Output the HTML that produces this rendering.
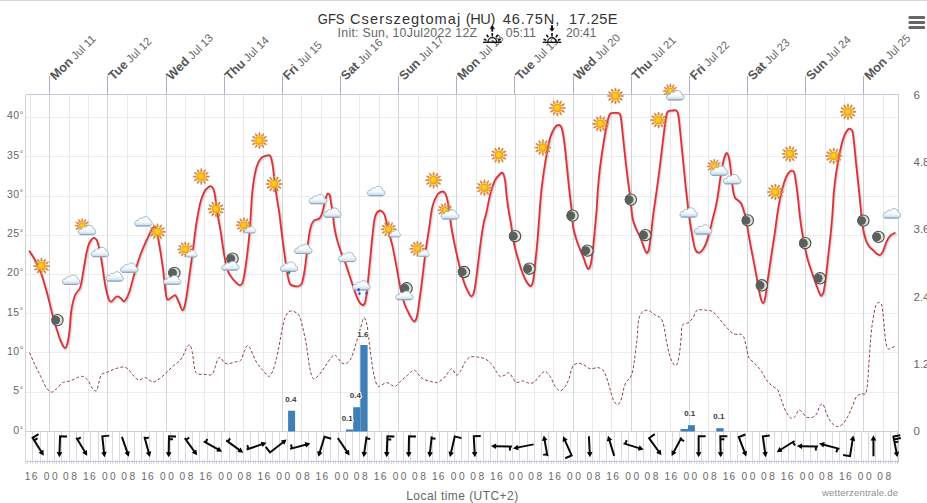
<!DOCTYPE html>
<html><head><meta charset="utf-8"><title>GFS Cserszegtomaj</title>
<style>html,body{margin:0;padding:0;background:#fff}body{width:927px;height:503px;overflow:hidden}svg{display:block}text{font-family:"Liberation Sans",sans-serif}</style>
</head><body>
<svg width="927" height="503" viewBox="0 0 927 503">
<defs>
<radialGradient id="gs" cx="0.45" cy="0.45" r="0.6"><stop offset="0" stop-color="#ffdc22"/><stop offset="0.5" stop-color="#fbc512"/><stop offset="1" stop-color="#f0931a"/></radialGradient>
<linearGradient id="gc" x1="0" y1="0" x2="0" y2="1"><stop offset="0" stop-color="#ffffff"/><stop offset="0.55" stop-color="#f6f9fc"/><stop offset="1" stop-color="#c3d6e6"/></linearGradient>
<g id="sun">
 <path d="M0.85 -5.00L0.45 -8.00L-0.45 -8.00L-0.85 -5.00zM3.24 -3.91L4.39 -6.70L3.61 -7.15L1.76 -4.76zM4.76 -1.76L7.15 -3.61L6.70 -4.39L3.91 -3.24zM5.00 0.85L8.00 0.45L8.00 -0.45L5.00 -0.85zM3.91 3.24L6.70 4.39L7.15 3.61L4.76 1.76zM1.76 4.76L3.61 7.15L4.39 6.70L3.24 3.91zM-0.85 5.00L-0.45 8.00L0.45 8.00L0.85 5.00zM-3.24 3.91L-4.39 6.70L-3.61 7.15L-1.76 4.76zM-4.76 1.76L-7.15 3.61L-6.70 4.39L-3.91 3.24zM-5.00 -0.85L-8.00 -0.45L-8.00 0.45L-5.00 0.85zM-3.91 -3.24L-6.70 -4.39L-7.15 -3.61L-4.76 -1.76zM-1.76 -4.76L-3.61 -7.15L-4.39 -6.70L-3.24 -3.91z" fill="#d68636" stroke="#d68636" stroke-width="0.5" stroke-linejoin="round"/>
 <circle r="4.0" fill="url(#gs)" stroke="#ee961c" stroke-width="0.9"/>
</g>
<g id="cloud">
 <path d="M-6.5 4.7h12.8a2.7 2.7 0 0 0 0.5 -5.35a4.45 4.45 0 0 0 -8.2 -2.0a2.3 2.3 0 0 0 -3.7 2.0a2.75 2.75 0 0 0 -1.4 5.35z" fill="url(#gc)" stroke="#9db6c9" stroke-width="0.95" stroke-linejoin="round"/>
 <path d="M-6.7 4.7h13.2" stroke="#8ea4b6" stroke-width="1" fill="none" stroke-linecap="round"/>
</g>
<g id="moon">
 <circle cx="0.5" cy="0.6" r="5.65" fill="#e0e0d3" stroke="#484b4a" stroke-width="1.1"/>
 <circle cx="-1.3" cy="0.6" r="4.4" fill="#59605d"/>
</g>
<g id="sunS">
 <path d="M0.75 -3.90L0.40 -7.20L-0.40 -7.20L-0.75 -3.90zM2.60 -3.00L3.95 -6.04L3.25 -6.44L1.30 -3.75zM3.75 -1.30L6.44 -3.25L6.04 -3.95L3.00 -2.60zM3.90 0.75L7.20 0.40L7.20 -0.40L3.90 -0.75zM3.00 2.60L6.04 3.95L6.44 3.25L3.75 1.30zM1.30 3.75L3.25 6.44L3.95 6.04L2.60 3.00zM-0.75 3.90L-0.40 7.20L0.40 7.20L0.75 3.90zM-2.60 3.00L-3.95 6.04L-3.25 6.44L-1.30 3.75zM-3.75 1.30L-6.44 3.25L-6.04 3.95L-3.00 2.60zM-3.90 -0.75L-7.20 -0.40L-7.20 0.40L-3.90 0.75zM-3.00 -2.60L-6.04 -3.95L-6.44 -3.25L-3.75 -1.30zM-1.30 -3.75L-3.25 -6.44L-3.95 -6.04L-2.60 -3.00z" fill="#d68636" stroke="#d68636" stroke-width="0.5" stroke-linejoin="round"/>
 <circle r="3.0" fill="url(#gs)" stroke="#ee961c" stroke-width="0.9"/>
</g>
<g id="sunM">
 <path d="M0.80 -4.60L0.45 -7.60L-0.45 -7.60L-0.80 -4.60zM2.99 -3.58L4.19 -6.36L3.41 -6.81L1.61 -4.38zM4.38 -1.61L6.81 -3.41L6.36 -4.19L3.58 -2.99zM4.60 0.80L7.60 0.45L7.60 -0.45L4.60 -0.80zM3.58 2.99L6.36 4.19L6.81 3.41L4.38 1.61zM1.61 4.38L3.41 6.81L4.19 6.36L2.99 3.58zM-0.80 4.60L-0.45 7.60L0.45 7.60L0.80 4.60zM-2.99 3.58L-4.19 6.36L-3.41 6.81L-1.61 4.38zM-4.38 1.61L-6.81 3.41L-6.36 4.19L-3.58 2.99zM-4.60 -0.80L-7.60 -0.45L-7.60 0.45L-4.60 0.80zM-3.58 -2.99L-6.36 -4.19L-6.81 -3.41L-4.38 -1.61zM-1.61 -4.38L-3.41 -6.81L-4.19 -6.36L-2.99 -3.58z" fill="#d68636" stroke="#d68636" stroke-width="0.5" stroke-linejoin="round"/>
 <circle r="3.6" fill="url(#gs)" stroke="#ee961c" stroke-width="0.9"/>
</g>
<g id="pc"><use href="#sunS" transform="translate(-4.7,-4.2)"/><use href="#cloud"/></g>
<g id="ms"><use href="#sunM"/><use href="#cloud" transform="translate(6.2,4.3) scale(0.64,0.72)"/></g>
<g id="mc"><use href="#moon" transform="translate(1.1,-3.3)"/><use href="#cloud" transform="translate(-0.8,4.4) scale(1,0.92)"/></g>
<g id="rain"><use href="#cloud"/><g fill="#2b55c8"><ellipse cx="-2.5" cy="4.6" rx="1.25" ry="1.7"/><ellipse cx="-1.7" cy="8.4" rx="1.15" ry="1.6"/><ellipse cx="5.4" cy="8.0" rx="1.15" ry="1.6"/></g></g>
<g id="drop"><use href="#cloud"/><ellipse cx="0.4" cy="6.0" rx="1.1" ry="1.5" fill="#1c7a74"/></g>
</defs>
<rect x="0" y="0" width="927" height="1" fill="#d6d6d6"/>
<g shape-rendering="crispEdges" fill="none">
<path d="M25.5 392.5H898.5" stroke="#ececec"/>
<path d="M25.5 352.5H898.5" stroke="#ececec"/>
<path d="M25.5 313.5H898.5" stroke="#ececec"/>
<path d="M25.5 274.5H898.5" stroke="#ececec"/>
<path d="M25.5 235.5H898.5" stroke="#ececec"/>
<path d="M25.5 196.5H898.5" stroke="#ececec"/>
<path d="M25.5 156.5H898.5" stroke="#ececec"/>
<path d="M25.5 117.5H898.5" stroke="#ececec"/>
<path d="M30.5 94.5V431.5" stroke="#e9e9ed"/>
<path d="M49.5 94.5V431.5" stroke="#d3d4dc"/>
<path d="M69.5 94.5V431.5" stroke="#e9e9ed"/>
<path d="M88.5 94.5V431.5" stroke="#e9e9ed"/>
<path d="M107.5 94.5V431.5" stroke="#d3d4dc"/>
<path d="M127.5 94.5V431.5" stroke="#e9e9ed"/>
<path d="M146.5 94.5V431.5" stroke="#e9e9ed"/>
<path d="M166.5 94.5V431.5" stroke="#d3d4dc"/>
<path d="M185.5 94.5V431.5" stroke="#e9e9ed"/>
<path d="M204.5 94.5V431.5" stroke="#e9e9ed"/>
<path d="M224.5 94.5V431.5" stroke="#d3d4dc"/>
<path d="M243.5 94.5V431.5" stroke="#e9e9ed"/>
<path d="M263.5 94.5V431.5" stroke="#e9e9ed"/>
<path d="M282.5 94.5V431.5" stroke="#d3d4dc"/>
<path d="M301.5 94.5V431.5" stroke="#e9e9ed"/>
<path d="M321.5 94.5V431.5" stroke="#e9e9ed"/>
<path d="M340.5 94.5V431.5" stroke="#d3d4dc"/>
<path d="M359.5 94.5V431.5" stroke="#e9e9ed"/>
<path d="M379.5 94.5V431.5" stroke="#e9e9ed"/>
<path d="M398.5 94.5V431.5" stroke="#d3d4dc"/>
<path d="M418.5 94.5V431.5" stroke="#e9e9ed"/>
<path d="M437.5 94.5V431.5" stroke="#e9e9ed"/>
<path d="M456.5 94.5V431.5" stroke="#d3d4dc"/>
<path d="M476.5 94.5V431.5" stroke="#e9e9ed"/>
<path d="M495.5 94.5V431.5" stroke="#e9e9ed"/>
<path d="M515.5 94.5V431.5" stroke="#d3d4dc"/>
<path d="M534.5 94.5V431.5" stroke="#e9e9ed"/>
<path d="M553.5 94.5V431.5" stroke="#e9e9ed"/>
<path d="M573.5 94.5V431.5" stroke="#d3d4dc"/>
<path d="M592.5 94.5V431.5" stroke="#e9e9ed"/>
<path d="M611.5 94.5V431.5" stroke="#e9e9ed"/>
<path d="M631.5 94.5V431.5" stroke="#d3d4dc"/>
<path d="M650.5 94.5V431.5" stroke="#e9e9ed"/>
<path d="M670.5 94.5V431.5" stroke="#e9e9ed"/>
<path d="M689.5 94.5V431.5" stroke="#d3d4dc"/>
<path d="M708.5 94.5V431.5" stroke="#e9e9ed"/>
<path d="M728.5 94.5V431.5" stroke="#e9e9ed"/>
<path d="M747.5 94.5V431.5" stroke="#d3d4dc"/>
<path d="M767.5 94.5V431.5" stroke="#e9e9ed"/>
<path d="M786.5 94.5V431.5" stroke="#e9e9ed"/>
<path d="M805.5 94.5V431.5" stroke="#d3d4dc"/>
<path d="M825.5 94.5V431.5" stroke="#e9e9ed"/>
<path d="M844.5 94.5V431.5" stroke="#e9e9ed"/>
<path d="M863.5 94.5V431.5" stroke="#d3d4dc"/>
<path d="M883.5 94.5V431.5" stroke="#e9e9ed"/>
<path d="M49.5 75.5V94.5" stroke="#a9afc6"/>
<path d="M107.5 75.5V94.5" stroke="#a9afc6"/>
<path d="M166.5 75.5V94.5" stroke="#a9afc6"/>
<path d="M224.5 75.5V94.5" stroke="#a9afc6"/>
<path d="M282.5 75.5V94.5" stroke="#a9afc6"/>
<path d="M340.5 75.5V94.5" stroke="#a9afc6"/>
<path d="M398.5 75.5V94.5" stroke="#a9afc6"/>
<path d="M456.5 75.5V94.5" stroke="#a9afc6"/>
<path d="M514.5 75.5V94.5" stroke="#a9afc6"/>
<path d="M573.5 75.5V94.5" stroke="#a9afc6"/>
<path d="M631.5 75.5V94.5" stroke="#a9afc6"/>
<path d="M689.5 75.5V94.5" stroke="#a9afc6"/>
<path d="M747.5 75.5V94.5" stroke="#a9afc6"/>
<path d="M805.5 75.5V94.5" stroke="#a9afc6"/>
<path d="M863.5 75.5V94.5" stroke="#a9afc6"/>
<path d="M25.5 94.5H898.5" stroke="#c4c9dc"/>
<path d="M25.5 94.5V462.5" stroke="#cfcfd6"/>
<path d="M898.5 94.5V462.5" stroke="#cfcfd6"/>
<path d="M25.5 431.5H898.5" stroke="#cfcfd6"/>
<path d="M25.5 431.5V463.5M32.5 431.5V463.5M40.5 431.5V463.5M47.5 431.5V463.5M54.5 431.5V463.5M61.5 431.5V463.5M69.5 431.5V463.5M76.5 431.5V463.5M83.5 431.5V463.5M90.5 431.5V463.5M98.5 431.5V463.5M105.5 431.5V463.5M112.5 431.5V463.5M119.5 431.5V463.5M127.5 431.5V463.5M134.5 431.5V463.5M141.5 431.5V463.5M149.5 431.5V463.5M156.5 431.5V463.5M163.5 431.5V463.5M170.5 431.5V463.5M178.5 431.5V463.5M185.5 431.5V463.5M192.5 431.5V463.5M199.5 431.5V463.5M207.5 431.5V463.5M214.5 431.5V463.5M221.5 431.5V463.5M229.5 431.5V463.5M236.5 431.5V463.5M243.5 431.5V463.5M250.5 431.5V463.5M258.5 431.5V463.5M265.5 431.5V463.5M272.5 431.5V463.5M279.5 431.5V463.5M287.5 431.5V463.5M294.5 431.5V463.5M301.5 431.5V463.5M308.5 431.5V463.5M316.5 431.5V463.5M323.5 431.5V463.5M330.5 431.5V463.5M338.5 431.5V463.5M345.5 431.5V463.5M352.5 431.5V463.5M359.5 431.5V463.5M367.5 431.5V463.5M374.5 431.5V463.5M381.5 431.5V463.5M388.5 431.5V463.5M396.5 431.5V463.5M403.5 431.5V463.5M410.5 431.5V463.5M417.5 431.5V463.5M425.5 431.5V463.5M432.5 431.5V463.5M439.5 431.5V463.5M447.5 431.5V463.5M454.5 431.5V463.5M461.5 431.5V463.5M468.5 431.5V463.5M476.5 431.5V463.5M483.5 431.5V463.5M490.5 431.5V463.5M497.5 431.5V463.5M505.5 431.5V463.5M512.5 431.5V463.5M519.5 431.5V463.5M527.5 431.5V463.5M534.5 431.5V463.5M541.5 431.5V463.5M548.5 431.5V463.5M556.5 431.5V463.5M563.5 431.5V463.5M570.5 431.5V463.5M577.5 431.5V463.5M585.5 431.5V463.5M592.5 431.5V463.5M599.5 431.5V463.5M606.5 431.5V463.5M614.5 431.5V463.5M621.5 431.5V463.5M628.5 431.5V463.5M636.5 431.5V463.5M643.5 431.5V463.5M650.5 431.5V463.5M657.5 431.5V463.5M665.5 431.5V463.5M672.5 431.5V463.5M679.5 431.5V463.5M686.5 431.5V463.5M694.5 431.5V463.5M701.5 431.5V463.5M708.5 431.5V463.5M715.5 431.5V463.5M723.5 431.5V463.5M730.5 431.5V463.5M737.5 431.5V463.5M745.5 431.5V463.5M752.5 431.5V463.5M759.5 431.5V463.5M766.5 431.5V463.5M774.5 431.5V463.5M781.5 431.5V463.5M788.5 431.5V463.5M795.5 431.5V463.5M803.5 431.5V463.5M810.5 431.5V463.5M817.5 431.5V463.5M825.5 431.5V463.5M832.5 431.5V463.5M839.5 431.5V463.5M846.5 431.5V463.5M854.5 431.5V463.5M861.5 431.5V463.5M868.5 431.5V463.5M875.5 431.5V463.5M883.5 431.5V463.5M890.5 431.5V463.5M897.5 431.5V463.5" stroke="#d9d9df"/>
<path d="M27.5 459.5V463.5M30.5 459.5V463.5M35.5 459.5V463.5M37.5 459.5V463.5M42.5 459.5V463.5M44.5 459.5V463.5M49.5 459.5V463.5M52.5 459.5V463.5M56.5 459.5V463.5M59.5 459.5V463.5M64.5 459.5V463.5M66.5 459.5V463.5M71.5 459.5V463.5M73.5 459.5V463.5M78.5 459.5V463.5M81.5 459.5V463.5M86.5 459.5V463.5M88.5 459.5V463.5M93.5 459.5V463.5M95.5 459.5V463.5M100.5 459.5V463.5M103.5 459.5V463.5M107.5 459.5V463.5M110.5 459.5V463.5M115.5 459.5V463.5M117.5 459.5V463.5M122.5 459.5V463.5M124.5 459.5V463.5M129.5 459.5V463.5M132.5 459.5V463.5M136.5 459.5V463.5M139.5 459.5V463.5M144.5 459.5V463.5M146.5 459.5V463.5M151.5 459.5V463.5M153.5 459.5V463.5M158.5 459.5V463.5M161.5 459.5V463.5M166.5 459.5V463.5M168.5 459.5V463.5M173.5 459.5V463.5M175.5 459.5V463.5M180.5 459.5V463.5M182.5 459.5V463.5M187.5 459.5V463.5M190.5 459.5V463.5M195.5 459.5V463.5M197.5 459.5V463.5M202.5 459.5V463.5M204.5 459.5V463.5M209.5 459.5V463.5M212.5 459.5V463.5M216.5 459.5V463.5M219.5 459.5V463.5M224.5 459.5V463.5M226.5 459.5V463.5M231.5 459.5V463.5M233.5 459.5V463.5M238.5 459.5V463.5M241.5 459.5V463.5M245.5 459.5V463.5M248.5 459.5V463.5M253.5 459.5V463.5M255.5 459.5V463.5M260.5 459.5V463.5M262.5 459.5V463.5M267.5 459.5V463.5M270.5 459.5V463.5M275.5 459.5V463.5M277.5 459.5V463.5M282.5 459.5V463.5M284.5 459.5V463.5M289.5 459.5V463.5M292.5 459.5V463.5M296.5 459.5V463.5M299.5 459.5V463.5M304.5 459.5V463.5M306.5 459.5V463.5M311.5 459.5V463.5M313.5 459.5V463.5M318.5 459.5V463.5M321.5 459.5V463.5M325.5 459.5V463.5M328.5 459.5V463.5M333.5 459.5V463.5M335.5 459.5V463.5M340.5 459.5V463.5M342.5 459.5V463.5M347.5 459.5V463.5M350.5 459.5V463.5M354.5 459.5V463.5M357.5 459.5V463.5M362.5 459.5V463.5M364.5 459.5V463.5M369.5 459.5V463.5M371.5 459.5V463.5M376.5 459.5V463.5M379.5 459.5V463.5M384.5 459.5V463.5M386.5 459.5V463.5M391.5 459.5V463.5M393.5 459.5V463.5M398.5 459.5V463.5M401.5 459.5V463.5M405.5 459.5V463.5M408.5 459.5V463.5M413.5 459.5V463.5M415.5 459.5V463.5M420.5 459.5V463.5M422.5 459.5V463.5M427.5 459.5V463.5M430.5 459.5V463.5M434.5 459.5V463.5M437.5 459.5V463.5M442.5 459.5V463.5M444.5 459.5V463.5M449.5 459.5V463.5M451.5 459.5V463.5M456.5 459.5V463.5M459.5 459.5V463.5M464.5 459.5V463.5M466.5 459.5V463.5M471.5 459.5V463.5M473.5 459.5V463.5M478.5 459.5V463.5M480.5 459.5V463.5M485.5 459.5V463.5M488.5 459.5V463.5M493.5 459.5V463.5M495.5 459.5V463.5M500.5 459.5V463.5M502.5 459.5V463.5M507.5 459.5V463.5M510.5 459.5V463.5M514.5 459.5V463.5M517.5 459.5V463.5M522.5 459.5V463.5M524.5 459.5V463.5M529.5 459.5V463.5M531.5 459.5V463.5M536.5 459.5V463.5M539.5 459.5V463.5M543.5 459.5V463.5M546.5 459.5V463.5M551.5 459.5V463.5M553.5 459.5V463.5M558.5 459.5V463.5M560.5 459.5V463.5M565.5 459.5V463.5M568.5 459.5V463.5M573.5 459.5V463.5M575.5 459.5V463.5M580.5 459.5V463.5M582.5 459.5V463.5M587.5 459.5V463.5M590.5 459.5V463.5M594.5 459.5V463.5M597.5 459.5V463.5M602.5 459.5V463.5M604.5 459.5V463.5M609.5 459.5V463.5M611.5 459.5V463.5M616.5 459.5V463.5M619.5 459.5V463.5M623.5 459.5V463.5M626.5 459.5V463.5M631.5 459.5V463.5M633.5 459.5V463.5M638.5 459.5V463.5M640.5 459.5V463.5M645.5 459.5V463.5M648.5 459.5V463.5M652.5 459.5V463.5M655.5 459.5V463.5M660.5 459.5V463.5M662.5 459.5V463.5M667.5 459.5V463.5M669.5 459.5V463.5M674.5 459.5V463.5M677.5 459.5V463.5M682.5 459.5V463.5M684.5 459.5V463.5M689.5 459.5V463.5M691.5 459.5V463.5M696.5 459.5V463.5M699.5 459.5V463.5M703.5 459.5V463.5M706.5 459.5V463.5M711.5 459.5V463.5M713.5 459.5V463.5M718.5 459.5V463.5M720.5 459.5V463.5M725.5 459.5V463.5M728.5 459.5V463.5M732.5 459.5V463.5M735.5 459.5V463.5M740.5 459.5V463.5M742.5 459.5V463.5M747.5 459.5V463.5M749.5 459.5V463.5M754.5 459.5V463.5M757.5 459.5V463.5M762.5 459.5V463.5M764.5 459.5V463.5M769.5 459.5V463.5M771.5 459.5V463.5M776.5 459.5V463.5M778.5 459.5V463.5M783.5 459.5V463.5M786.5 459.5V463.5M791.5 459.5V463.5M793.5 459.5V463.5M798.5 459.5V463.5M800.5 459.5V463.5M805.5 459.5V463.5M808.5 459.5V463.5M812.5 459.5V463.5M815.5 459.5V463.5M820.5 459.5V463.5M822.5 459.5V463.5M827.5 459.5V463.5M829.5 459.5V463.5M834.5 459.5V463.5M837.5 459.5V463.5M841.5 459.5V463.5M844.5 459.5V463.5M849.5 459.5V463.5M851.5 459.5V463.5M856.5 459.5V463.5M858.5 459.5V463.5M863.5 459.5V463.5M866.5 459.5V463.5M871.5 459.5V463.5M873.5 459.5V463.5M878.5 459.5V463.5M880.5 459.5V463.5M885.5 459.5V463.5M888.5 459.5V463.5M892.5 459.5V463.5M895.5 459.5V463.5" stroke="#d9d9df"/>
<path d="M25.5 461.5H898.5" stroke="#c4cadc"/>
</g>
<rect x="288.1" y="410.7" width="7" height="20.8" fill="#3f7fb6"/>
<rect x="346" y="429.5" width="7.2" height="2" fill="#3f7fb6"/>
<rect x="353.2" y="407.2" width="7.1" height="24.3" fill="#3f7fb6"/>
<rect x="360.3" y="345" width="7.3" height="86.5" fill="#3f7fb6"/>
<rect x="680.5" y="429" width="7.5" height="2.5" fill="#3f7fb6"/>
<rect x="688" y="425.2" width="6.9" height="6.3" fill="#3f7fb6"/>
<rect x="716.3" y="428.2" width="7.3" height="3.3" fill="#3f7fb6"/>
<path d="M29.5 352.6C31.33 356.73 33.07 360.91 35 365C37 369.25 39.2 373.4 41.3 377.6C42.97 380.93 44.22 384.58 46.3 387.6C47.55 389.42 49.53 391.87 51.3 392.1C52.86 392.3 54.79 390.17 56.3 388.9C58.56 387 60.13 384.03 62.6 382.6C64.73 381.36 67.68 381.71 70.1 380.9C72.68 380.04 75.04 378.52 77.6 377.6C79.21 377.02 81.09 376.03 82.6 376.4C84.45 376.86 86.41 378.5 87.7 380.1C89.77 382.67 90.65 386.36 92.7 388.9C93.55 389.96 95.72 391.59 96.4 390.9C97.79 389.49 98.05 385.36 98.9 382.6C99.72 379.93 99.78 376.55 101.4 374.6C102.72 373.02 105.61 372.88 107.7 372C110.21 370.95 112.61 369.59 115.2 368.8C118.05 367.93 121.21 366.76 124 367C125.81 367.16 127.61 368.69 129 370C130.94 371.82 132.1 374.5 134 376.4C135.44 377.84 137.2 379.81 139 380C140.97 380.21 143.28 377.6 145.3 377.6C146.62 377.6 147.73 379.26 149 380C150.23 380.72 151.5 382 152.8 382C154.43 382 156.32 380.97 157.8 380C160.48 378.24 162.91 375.99 165.3 373.8C167.91 371.42 170.19 368.68 172.8 366.3C175.23 364.08 178.24 362.41 180.4 360C181.97 358.25 182.91 355.93 184 353.8C185.25 351.36 185.93 348.49 187.4 346.3C187.9 345.55 189.47 344.45 189.9 345C191.13 346.55 191.88 349.99 192.4 352.6C193.55 358.33 193.58 364.39 194.9 370C195.24 371.45 196.16 373.23 197.4 373.8C199.26 374.66 201.93 374.17 204.2 374.3C206.7 374.44 209.93 375.7 211.7 374.6C213.53 373.47 214.05 369.99 215 367.6C216.15 364.73 216.6 361.39 218 358.8C218.4 358.05 219.78 357.22 220.4 357.6C221.85 358.49 222.65 361.34 224.2 362.6C225.18 363.4 226.72 363.89 228 363.8C230.49 363.62 232.99 362.44 235.5 361.8C237.16 361.37 239.51 361.78 240.5 360.6C242.44 358.28 242.89 354.33 244.3 351.3C245.23 349.3 246.26 346 247.5 345.5C248.33 345.16 249.74 347.55 250.5 348.8C251.41 350.31 251.74 352.17 252.5 353.8C254.07 357.17 255.49 360.69 257.5 363.8C259.26 366.52 261.62 368.87 263.8 371.3C265.39 373.07 267.25 376.4 268.8 376.4C270.18 376.4 271.78 373.22 272.6 371.3C274.28 367.36 275.21 363 276.3 358.8C277.27 355.07 278.05 351.28 278.8 347.5C279.79 342.52 280.47 337.47 281.5 332.5C282.53 327.54 283.38 322.45 285 317.7C285.71 315.61 286.95 313.37 288.5 312C289.48 311.14 291.36 310.62 292.6 311C294.83 311.68 297.73 313.12 298.9 315.2C301.29 319.45 302.04 325.01 303.3 330C304.54 334.95 305.54 339.97 306.4 345C307.4 350.84 307.93 356.76 308.9 362.6C309.59 366.76 310.18 371.02 311.4 375C311.85 376.46 312.84 378.9 313.9 378.9C315.34 378.9 317.5 376.56 318.9 375C321.27 372.36 323.15 369.24 325.2 366.3C326.92 363.84 328.36 361.16 330.2 358.8C331.3 357.39 332.62 355.55 334 355C334.72 354.71 335.85 355.64 336.5 356.3C338.35 358.18 339.55 360.91 341.5 362.6C342.45 363.41 344.09 364.13 345.2 363.8C346.99 363.26 349.11 361.7 350.2 360C352.05 357.1 352.86 353.38 354 350C355.39 345.88 356.55 341.67 357.8 337.5C358.65 334.67 359.42 331.82 360.3 329C361.48 325.22 362.63 318.75 364 317.7C364.8 317.09 366.19 321.81 366.8 324C367.52 326.57 367.66 329.33 368 332C368.56 336.33 368.96 340.67 369.5 345C370.13 350.01 370.75 355.01 371.5 360C372.25 365.01 372.83 370.08 374 375C374.93 378.88 375.91 383.91 377.8 386.4C378.44 387.24 380.36 385.53 381.6 385C383.3 384.27 384.93 382.6 386.6 382.6C388.27 382.6 389.91 384.26 391.6 385C392.81 385.53 394.25 386.83 395.3 386.4C397.19 385.63 398.64 383 400.4 381.4C402.84 379.2 405.38 377.11 407.9 375C409.91 373.31 412.03 370.24 414 370C415.36 369.84 416.62 372.52 417.9 373.8C419.58 375.48 420.92 377.7 422.9 378.9C425.09 380.23 427.86 380.72 430.4 381.4C432.46 381.95 434.74 382.99 436.7 382.6C438.94 382.16 441.21 380.49 443 378.9C444.97 377.15 446.25 374.63 448 372.6C449.15 371.26 450.54 368.48 451.7 368.8C453.44 369.28 454.94 374.5 456.7 375C457.87 375.33 459.56 372.77 460.5 371.3C462.49 368.2 463.4 364.3 465.5 361.3C466.74 359.53 468.56 357.7 470.5 357C472.56 356.26 475.2 356.71 477.5 357C480.03 357.31 482.75 357.69 485 358.8C487.35 359.96 489.52 361.84 491.3 363.8C493.29 366 494.59 368.83 496.3 371.3C497.49 373.03 498.41 375.72 500 376.4C501.31 376.96 503.43 375.68 505 375C506.36 374.41 507.74 372.24 508.8 372.6C510.28 373.11 511.33 375.93 512.6 377.6C513.87 379.27 514.75 382.06 516.4 382.6C518.09 383.16 520.55 380.78 522.6 380.9C525.09 381.05 527.55 383.3 530 383.4C531.69 383.47 533.66 382.52 535 381.4C537.46 379.32 539.07 376.11 541.4 373.8C542.47 372.74 544.06 370.96 545.2 371.3C546.99 371.83 548.9 374.44 550.2 376.4C552.23 379.47 553.12 383.38 555.2 386.4C556.45 388.22 558.53 390.9 560.2 390.9C561.87 390.9 563.9 388.18 565.2 386.4C566.83 384.18 568.02 381.52 569 378.9C570.52 374.82 570.69 369.9 572.7 366.3C573.59 364.7 575.92 363.5 577.7 363.3C579.69 363.07 582.03 364.14 584 365C586.23 365.97 588.04 368.37 590.3 368.8C592.64 369.24 595.39 367.37 597.8 367.6C599.56 367.77 601.64 368.68 602.8 370C604.57 372.02 605.61 374.96 606.6 377.6C608.11 381.62 609.02 385.88 610.3 390C611.49 393.81 612.24 397.95 614 401.4C614.74 402.85 616.7 404.92 617.8 404.7C619.04 404.45 620.36 401.76 621 400C622.43 396.06 622.78 391.66 624 387.6C624.64 385.46 625.41 383.25 626.6 381.4C627.55 379.92 629.56 379.13 630.4 377.6C631.66 375.33 632.38 372.61 632.9 370C634.05 364.27 634.65 358.41 635.4 352.6C636.15 346.74 636.82 340.88 637.4 335C637.89 330.01 637.68 324.88 638.6 320C639.08 317.44 640.04 314.61 641.6 312.7C642.71 311.35 644.89 310.43 646.6 310.2C647.83 310.03 649.25 310.85 650.4 311.5C652.18 312.51 653.64 314.11 655.4 315.2C656.98 316.18 659.15 316.45 660.4 317.7C661.68 318.98 662.41 321 663 322.8C663.87 325.44 664.28 328.25 664.8 331C665.52 334.82 665.9 338.7 666.7 342.5C667.77 347.57 668.77 352.71 670.4 357.6C671.27 360.21 672.59 363.1 674.2 365C674.69 365.57 676.37 365.65 676.7 365C678.04 362.32 678.65 358.38 679.2 355C680.15 349.22 680.56 343.34 681.2 337.5C681.66 333.34 680.96 328.33 682.5 325C683.23 323.43 686.41 323.9 688 322.8C689.91 321.47 691.65 319.63 693 317.7C694.59 315.43 695.12 312.13 696.8 310.2C697.45 309.46 698.93 309.7 700 309.7C702.09 309.7 704.22 309.9 706.3 310.2C708.39 310.5 710.74 310.51 712.5 311.5C714.47 312.61 715.93 314.75 717.5 316.5C719.3 318.51 720.86 320.73 722.6 322.8C724.23 324.73 725.86 326.67 727.6 328.5C729.19 330.17 730.69 332.15 732.6 333.3C734.02 334.15 735.91 334.31 737.6 334.5C738.85 334.64 740.38 333.82 741.4 334.3C742.48 334.82 743.43 336.26 743.9 337.5C745.1 340.66 745.57 344.17 746.4 347.5C747.24 350.87 747.34 354.64 748.9 357.6C750.21 360.07 753.05 361.66 755 363.8C757.21 366.23 759.52 368.62 761.4 371.3C763.32 374.02 764.41 377.34 766.4 380C768.18 382.38 770.47 384.42 772.7 386.4C774.23 387.76 776.64 388.34 777.7 390C779.54 392.87 780.12 396.69 781.4 400C783.05 404.25 784.33 408.75 786.5 412.7C787.7 414.89 789.63 417.61 791.5 418.4C792.53 418.84 794.3 417.41 795.2 416.4C796.8 414.61 797.45 410.76 799 410C799.95 409.53 801.61 411.65 802.7 412.7C804.11 414.05 804.87 416.48 806.5 417.2C808.24 417.98 810.92 417.8 812.8 417.2C814.26 416.73 815.66 415.35 816.5 414C818.16 411.35 818.67 407.79 820.3 405.2C820.77 404.45 822.3 403.52 822.8 404C823.97 405.12 824.47 408 825.3 410C826.54 413 827.41 416.21 829 419C830.31 421.28 832.05 423.54 834 425.2C834.98 426.04 836.57 426.67 837.8 426.5C839.51 426.27 841.53 425.28 842.8 424C844.86 421.91 846.37 419.06 847.8 416.4C849.74 412.8 851.25 408.95 852.9 405.2C854.18 402.29 854.77 398.78 856.6 396.4C857.67 395.01 859.85 394.4 861.6 393.9C862.79 393.56 864.83 394.77 865.4 393.9C866.76 391.81 867.03 388.01 867.4 385C868.1 379.24 868.19 373.4 868.6 367.6C869.13 360.07 869.62 352.53 870.2 345C870.59 340 870.95 334.99 871.5 330C871.85 326.75 872.33 323.52 872.9 320.3C873.8 315.25 874.27 309.88 875.9 305.2C876.37 303.84 878.17 302.2 879.2 302.2C880.1 302.2 881.37 303.98 881.7 305.2C882.77 309.15 882.93 313.52 883.4 317.7C883.86 321.79 884.09 325.9 884.5 330C884.92 334.17 885.16 338.39 885.9 342.5C886.29 344.66 886.68 347.65 887.9 348.8C888.62 349.48 890.5 348.44 891.7 348C892.77 347.61 893.7 346.87 894.7 346.3" fill="none" stroke="#934040" stroke-width="1" stroke-dasharray="3,2"/>
<g fill="none" stroke-linejoin="round" stroke-linecap="round">
<path d="M29.5 251.3C31.33 254.2 33.42 256.96 35 260C37.35 264.53 39.58 269.19 41.3 274C43.78 280.93 45.67 288.09 47.6 295.2C49.83 303.42 51.57 311.78 53.8 320C54.9 324.05 56.27 328.02 57.6 332C58.77 335.52 59.74 339.17 61.3 342.5C62.24 344.5 64 348 65.1 348C66.1 348 67.12 344.44 67.6 342.5C68.62 338.44 69.11 334.19 69.6 330C70.38 323.36 70.36 316.59 71.4 310C72.2 304.93 73.26 299.73 75.1 295C76.16 292.29 79.21 290.46 80.1 287.7C82.15 281.32 82.63 274.3 83.9 267.6C85.16 260.93 85.96 254.11 87.7 247.6C88.46 244.78 89.75 241.86 91.4 239.6C92.09 238.66 93.86 237.6 94.7 238C95.96 238.6 97.17 240.87 97.7 242.6C99.41 248.2 100.37 254.16 101.4 260C102.87 268.3 103.63 276.73 105.2 285C106.16 290.06 107.23 295.37 109 300C109.33 300.87 110.77 301.84 111.5 301.5C113.27 300.67 114.63 297.32 116.5 296.5C117.53 296.05 119.15 297 120.2 297.7C121.65 298.67 122.98 302.08 124 301.5C125.92 300.41 127.82 295.84 129 292.7C131.15 287 132.24 280.87 134 275C136.01 268.31 137.88 261.55 140.3 255C142.48 249.08 145.15 243.33 147.8 237.6C149.31 234.33 150.8 230.83 152.8 228C153.3 227.3 154.96 226.37 155.3 227C156.69 229.57 157.34 234.02 158 237.6C159.84 247.55 161.4 257.57 162.8 267.6C164.07 276.71 164.59 285.95 166 295C166.26 296.65 166.77 299.49 167.8 299.7C169.03 299.95 171.09 297.43 172.8 296.4C173.59 295.93 174.78 294.68 175.3 295.2C176.88 296.78 177.9 300.17 179.1 302.7C180.27 305.17 181.34 310.2 182.4 310.2C183.44 310.2 184.86 305.32 185.4 302.7C187.09 294.49 187.91 286.04 189.1 277.7C190.41 268.47 191.66 259.24 192.9 250C194.16 240.67 195.1 231.29 196.6 222C197.76 214.82 199.07 207.62 200.9 200.6C201.74 197.38 203.02 194.18 204.6 191.3C205.45 189.75 206.81 188.35 208.2 187.3C209.01 186.68 210.46 185.9 211.2 186.3C212.36 186.93 213.41 188.87 213.9 190.4C214.88 193.44 215.12 196.79 215.6 200C216.15 203.65 216.42 207.35 217 211C218.02 217.35 219.36 223.65 220.4 230C221.76 238.32 222.68 246.72 224.2 255C225.21 260.52 226.11 266.19 228 271.4C229.05 274.29 231.13 276.83 233 279.3C234.13 280.8 235.58 282.07 237 283.3C237.85 284.04 238.91 285.25 239.8 285.2C240.68 285.15 241.87 283.98 242.3 283C243.37 280.58 243.82 277.7 244.3 275C245.32 269.24 246.07 263.41 246.8 257.6C247.74 250.08 248.59 242.54 249.3 235C249.89 228.68 250.25 222.33 250.7 216C251.31 207.4 251.51 198.75 252.5 190.2C253.37 182.65 254.33 174.97 256.3 167.7C257.26 164.14 259.06 160.42 261.3 157.7C262.39 156.38 264.58 156.02 266.3 155.6C267.48 155.32 269.43 154.73 270 155.6C271.53 157.93 272.05 161.94 272.6 165.2C273.72 171.81 274.11 178.54 275 185.2C275.78 191.08 276.69 196.94 277.6 202.8C278.13 206.21 278.84 209.59 279.3 213C280.07 218.65 280.59 224.34 281.3 230C282.35 238.34 283.43 246.68 284.6 255C285.53 261.68 286.37 268.38 287.6 275C288.17 278.05 288.57 281.51 290 284C290.67 285.17 292.51 285.69 293.9 286C295.48 286.36 297.48 286.58 298.9 286C300.18 285.48 301.54 284.09 302 282.7C303.57 277.96 304.24 272.67 305 267.6C306.24 259.31 306.84 250.91 308 242.6C308.71 237.54 309.29 232.39 310.6 227.5C311.26 225.03 312.25 222.21 313.9 220.5C315.05 219.31 317.64 219.8 319 218.8C320.14 217.97 320.79 216.35 321.4 215C322.12 213.42 322.57 211.69 323 210C323.84 206.69 324.27 203.27 325.2 200C325.83 197.77 326.61 194.66 327.7 193.5C328.11 193.06 329.45 194.4 329.7 195.2C330.68 198.33 330.8 201.94 331.4 205.3C331.8 207.54 332.4 209.75 332.7 212C333.27 216.31 333.36 220.7 334 225C334.63 229.23 335.47 233.45 336.5 237.6C337.54 241.78 338.78 245.93 340.2 250C341.68 254.26 343.67 258.35 345.2 262.6C347 267.58 348.53 272.67 350.2 277.7C351.86 282.7 353.37 287.76 355.2 292.7C356.31 295.69 357.37 298.82 359 301.5C359.9 302.98 361.66 305.2 362.8 305.2C363.76 305.2 364.98 302.93 365.3 301.5C366.65 295.43 367.08 288.98 367.8 282.7C368.75 274.35 369.47 265.97 370.3 257.6C371.13 249.27 371.8 240.91 372.8 232.6C373.47 227.05 373.71 221.21 375.3 216C375.95 213.88 377.87 211.19 379.5 210.6C380.61 210.19 382.55 211.87 383.5 213C384.49 214.17 384.86 215.95 385.3 217.5C386.7 222.48 387.75 227.57 389 232.6C390.25 237.6 391.71 242.56 392.8 247.6C394.24 254.23 395.35 260.93 396.6 267.6C397.85 274.3 398.88 281.04 400.3 287.7C401.38 292.74 402.47 297.83 404.1 302.7C405.4 306.59 407.17 310.38 409.1 314C410.51 316.64 412.44 320.68 414.1 321.5C414.94 321.91 416.22 319.14 416.6 317.7C417.88 312.88 418.37 307.72 419.1 302.7C420.31 294.38 421.35 286.04 422.4 277.7C423.45 269.34 424.27 260.95 425.4 252.6C426.54 244.22 427.96 235.87 429.2 227.5C430.06 221.67 430.68 215.8 431.7 210C432.12 207.63 432.63 205.24 433.5 203C434.7 199.9 435.89 196.46 437.9 194C439.02 192.63 441.36 191.5 442.9 191.5C443.89 191.5 445.02 192.93 445.5 194C446.72 196.7 447.31 199.83 448 202.8C448.55 205.17 448.87 207.59 449.2 210C449.87 214.99 450.24 220.02 451 225C451.9 230.89 453.03 236.75 454.2 242.6C455.36 248.42 456.66 254.22 458 260C459.16 265.02 460.29 270.05 461.7 275C462.79 278.85 464.02 282.69 465.5 286.4C466.55 289.02 467.89 291.56 469.3 294C469.82 294.9 470.68 296.58 471.3 296.4C472.18 296.15 473.42 294.11 473.8 292.7C475.09 287.88 475.59 282.72 476.3 277.7C477.25 271.02 477.96 264.3 478.8 257.6C479.63 250.93 480.35 244.25 481.3 237.6C482.02 232.55 482.78 227.49 483.8 222.5C484.45 219.29 485.58 216.19 486.3 213C487.64 207.09 488.45 201.05 490 195.2C491.35 190.11 492.78 184.9 495 180.2C496.12 177.83 498.14 175.83 500 174C500.68 173.33 502.15 172.14 502.6 172.7C503.82 174.21 504.57 177.62 505 180.2C505.97 185.96 506.09 191.88 506.8 197.7C507.42 202.81 508.19 207.91 509 213C509.59 216.68 510.4 220.32 511 224C512 230.19 512.59 236.46 513.8 242.6C514.79 247.66 516.22 252.63 517.6 257.6C518.76 261.76 519.99 265.92 521.4 270C522.46 273.05 523.58 276.11 525 279C526.08 281.18 527.38 283.4 528.9 285.2C529.35 285.73 530.49 286.38 530.9 286C531.86 285.11 532.68 283.04 533 281.4C534.05 276.04 534.4 270.47 535 265C535.9 256.67 536.77 248.34 537.5 240C538.2 232.01 538.67 224 539.3 216C539.97 207.4 540.45 198.77 541.4 190.2C542.42 181.01 543.67 171.82 545.2 162.7C546.61 154.29 547.91 145.76 550.2 137.6C551.25 133.86 553.05 130.07 555.2 127C555.99 125.87 557.86 124.89 559 125C559.96 125.09 561.13 126.49 561.5 127.6C562.8 131.49 563.41 135.83 564 140C565.07 147.53 565.71 155.13 566.5 162.7C567.37 171.03 568.1 179.37 569 187.7C569.84 195.47 570.88 203.23 571.7 211C572.28 216.49 572.3 222.07 573.2 227.5C573.9 231.74 575.22 235.89 576.5 240C577.55 243.39 578.89 246.7 580.2 250C581.39 253 582.84 255.89 584 258.9C584.94 261.36 585.43 264.03 586.5 266.4C586.93 267.36 587.97 269.21 588.5 268.9C589.41 268.37 590.4 265.67 590.8 263.9C591.83 259.37 592.26 254.65 592.8 250C593.66 242.52 594.29 235 595 227.5C595.55 221.67 596.16 215.84 596.6 210C597.09 203.41 597.26 196.79 597.8 190.2C598.49 181.86 599.27 173.51 600.3 165.2C601.34 156.78 602.62 148.37 604 140C605.05 133.64 606.24 127.29 607.6 121C608.07 118.83 608.6 116.57 609.5 114.6C609.8 113.93 610.52 113.31 611.2 113.1C612.35 112.74 613.73 112.9 615 112.9C616.27 112.9 617.82 112.56 618.8 113.1C619.68 113.59 620.41 114.89 620.6 116C621.91 123.86 622.41 132 623.3 140C624.41 150.07 625.4 160.15 626.6 170.2C627.7 179.38 629.07 188.53 630.2 197.7C630.7 201.79 631 205.91 631.5 210C631.9 213.34 632.07 216.76 632.9 220C633.77 223.42 635.21 226.74 636.6 230C637.71 232.6 639.3 234.99 640.4 237.6C641.77 240.86 642.68 244.32 644 247.6C644.75 249.45 645.63 252.5 646.6 253C647.19 253.3 648.42 251.17 648.7 250C649.85 245.17 650.26 240.01 650.9 235C651.76 228.34 652.34 221.65 653.2 215C654.27 206.72 655.57 198.47 656.7 190.2C657.84 181.87 658.95 173.54 660 165.2C661.05 156.81 661.97 148.4 663 140C663.7 134.33 664.38 128.65 665.2 123C665.68 119.72 665.98 116.3 666.9 113.2C667.18 112.27 667.97 111.3 668.8 110.9C669.84 110.4 671.26 110.58 672.5 110.5C673.73 110.42 675.35 109.8 676.2 110.4C677.25 111.14 677.94 113.02 678.2 114.5C679.37 121.22 679.78 128.16 680.5 135C681.38 143.39 682.16 151.8 683 160.2C683.83 168.53 684.61 176.87 685.5 185.2C686.38 193.47 687.3 201.74 688.3 210C688.8 214.17 689.35 218.35 690 222.5C690.92 228.35 691.84 234.2 693 240C693.67 243.37 694.13 247.02 695.5 250C696.06 251.22 697.68 252.6 698.8 252.6C700.01 252.6 701.62 251.17 702.5 250C704.12 247.84 705.33 245.19 706.3 242.6C707.83 238.52 708.87 234.23 710 230C711.1 225.86 711.96 221.66 713 217.5C713.63 214.99 714.43 212.52 715 210C715.93 205.92 716.81 201.82 717.5 197.7C718.47 191.89 719.09 186.02 720 180.2C720.92 174.35 721.78 168.48 723 162.7C723.58 159.95 724.35 157.15 725.4 154.6C725.68 153.92 726.67 152.62 727 153C727.94 154.08 728.8 156.92 729.2 159C730.23 164.32 730.64 169.79 731.3 175.2C731.91 180.19 732.19 185.25 733 190.2C733.42 192.75 733.83 195.52 735 197.7C735.76 199.12 737.61 199.83 738.8 201C739.74 201.93 740.83 202.83 741.4 204C742.53 206.33 743.05 209.01 743.9 211.5C744.41 213.01 745.14 214.45 745.5 216C746.18 218.95 746.49 222 747 225C747.99 230.87 748.93 236.75 750 242.6C751.23 249.28 752.64 255.93 753.9 262.6C755.17 269.29 756.32 276.01 757.6 282.7C758.56 287.71 759.26 292.81 760.6 297.7C761.13 299.64 762.42 303.2 763.2 303.2C763.95 303.2 764.83 299.61 765.2 297.7C766.33 291.94 766.85 286.03 767.7 280.2C768.92 271.8 770.15 263.4 771.4 255C772.65 246.66 773.99 238.34 775.2 230C776.02 224.34 776.63 218.65 777.5 213C778.29 207.88 779.11 202.76 780.2 197.7C781.28 192.66 782.45 187.6 784 182.7C784.95 179.7 786.07 176.61 787.7 174C788.57 172.61 790.17 171.08 791.5 170.7C792.27 170.48 793.68 171.34 794 172.2C795.18 175.34 795.47 179.18 796 182.7C796.87 188.51 797.53 194.36 798.2 200.2C798.69 204.46 799.02 208.74 799.5 213C799.95 217.01 800.39 221.02 801 225C801.89 230.88 802.87 236.76 804 242.6C805.13 248.43 806.25 254.28 807.8 260C809.18 265.08 811.08 270.02 812.8 275C814.42 279.68 815.98 284.4 817.8 289C818.71 291.3 819.79 294.88 821 295.7C821.62 296.12 822.98 293.89 823.3 292.7C824.58 287.89 825.13 282.72 825.8 277.7C826.8 270.16 827.46 262.57 828.3 255C829.13 247.53 830.05 240.08 830.8 232.6C831.45 226.08 832.01 219.54 832.5 213C833.07 205.41 833.27 197.78 834 190.2C834.64 183.51 835.56 176.84 836.6 170.2C837.66 163.44 838.84 156.68 840.3 150C841.3 145.41 842.39 140.78 844 136.4C844.89 133.98 846.22 131.48 847.8 129.6C848.35 128.94 849.7 128.54 850.4 128.8C851.23 129.11 852.14 130.29 852.4 131.3C853.34 134.89 853.57 138.82 854 142.6C854.77 149.29 855.31 156 856 162.7C856.77 170.2 857.62 177.7 858.4 185.2C859.19 192.8 859.94 200.4 860.7 208C861.27 213.67 861.54 219.38 862.4 225C863.11 229.65 864.02 234.33 865.4 238.8C866.22 241.43 867.47 244.04 869 246.3C870 247.78 871.7 248.73 873 250C874.27 251.23 875.3 252.8 876.7 253.8C877.63 254.46 879.11 255.35 880 255C881.21 254.52 882.31 252.71 883 251.3C884.54 248.14 885.19 244.5 886.7 241.3C887.66 239.26 888.87 237.19 890.4 235.6C891.53 234.42 893.27 233.87 894.7 233" stroke="#000" stroke-opacity="0.03" stroke-width="4.6" transform="translate(1,1)"/>
<path d="M29.5 251.3C31.33 254.2 33.42 256.96 35 260C37.35 264.53 39.58 269.19 41.3 274C43.78 280.93 45.67 288.09 47.6 295.2C49.83 303.42 51.57 311.78 53.8 320C54.9 324.05 56.27 328.02 57.6 332C58.77 335.52 59.74 339.17 61.3 342.5C62.24 344.5 64 348 65.1 348C66.1 348 67.12 344.44 67.6 342.5C68.62 338.44 69.11 334.19 69.6 330C70.38 323.36 70.36 316.59 71.4 310C72.2 304.93 73.26 299.73 75.1 295C76.16 292.29 79.21 290.46 80.1 287.7C82.15 281.32 82.63 274.3 83.9 267.6C85.16 260.93 85.96 254.11 87.7 247.6C88.46 244.78 89.75 241.86 91.4 239.6C92.09 238.66 93.86 237.6 94.7 238C95.96 238.6 97.17 240.87 97.7 242.6C99.41 248.2 100.37 254.16 101.4 260C102.87 268.3 103.63 276.73 105.2 285C106.16 290.06 107.23 295.37 109 300C109.33 300.87 110.77 301.84 111.5 301.5C113.27 300.67 114.63 297.32 116.5 296.5C117.53 296.05 119.15 297 120.2 297.7C121.65 298.67 122.98 302.08 124 301.5C125.92 300.41 127.82 295.84 129 292.7C131.15 287 132.24 280.87 134 275C136.01 268.31 137.88 261.55 140.3 255C142.48 249.08 145.15 243.33 147.8 237.6C149.31 234.33 150.8 230.83 152.8 228C153.3 227.3 154.96 226.37 155.3 227C156.69 229.57 157.34 234.02 158 237.6C159.84 247.55 161.4 257.57 162.8 267.6C164.07 276.71 164.59 285.95 166 295C166.26 296.65 166.77 299.49 167.8 299.7C169.03 299.95 171.09 297.43 172.8 296.4C173.59 295.93 174.78 294.68 175.3 295.2C176.88 296.78 177.9 300.17 179.1 302.7C180.27 305.17 181.34 310.2 182.4 310.2C183.44 310.2 184.86 305.32 185.4 302.7C187.09 294.49 187.91 286.04 189.1 277.7C190.41 268.47 191.66 259.24 192.9 250C194.16 240.67 195.1 231.29 196.6 222C197.76 214.82 199.07 207.62 200.9 200.6C201.74 197.38 203.02 194.18 204.6 191.3C205.45 189.75 206.81 188.35 208.2 187.3C209.01 186.68 210.46 185.9 211.2 186.3C212.36 186.93 213.41 188.87 213.9 190.4C214.88 193.44 215.12 196.79 215.6 200C216.15 203.65 216.42 207.35 217 211C218.02 217.35 219.36 223.65 220.4 230C221.76 238.32 222.68 246.72 224.2 255C225.21 260.52 226.11 266.19 228 271.4C229.05 274.29 231.13 276.83 233 279.3C234.13 280.8 235.58 282.07 237 283.3C237.85 284.04 238.91 285.25 239.8 285.2C240.68 285.15 241.87 283.98 242.3 283C243.37 280.58 243.82 277.7 244.3 275C245.32 269.24 246.07 263.41 246.8 257.6C247.74 250.08 248.59 242.54 249.3 235C249.89 228.68 250.25 222.33 250.7 216C251.31 207.4 251.51 198.75 252.5 190.2C253.37 182.65 254.33 174.97 256.3 167.7C257.26 164.14 259.06 160.42 261.3 157.7C262.39 156.38 264.58 156.02 266.3 155.6C267.48 155.32 269.43 154.73 270 155.6C271.53 157.93 272.05 161.94 272.6 165.2C273.72 171.81 274.11 178.54 275 185.2C275.78 191.08 276.69 196.94 277.6 202.8C278.13 206.21 278.84 209.59 279.3 213C280.07 218.65 280.59 224.34 281.3 230C282.35 238.34 283.43 246.68 284.6 255C285.53 261.68 286.37 268.38 287.6 275C288.17 278.05 288.57 281.51 290 284C290.67 285.17 292.51 285.69 293.9 286C295.48 286.36 297.48 286.58 298.9 286C300.18 285.48 301.54 284.09 302 282.7C303.57 277.96 304.24 272.67 305 267.6C306.24 259.31 306.84 250.91 308 242.6C308.71 237.54 309.29 232.39 310.6 227.5C311.26 225.03 312.25 222.21 313.9 220.5C315.05 219.31 317.64 219.8 319 218.8C320.14 217.97 320.79 216.35 321.4 215C322.12 213.42 322.57 211.69 323 210C323.84 206.69 324.27 203.27 325.2 200C325.83 197.77 326.61 194.66 327.7 193.5C328.11 193.06 329.45 194.4 329.7 195.2C330.68 198.33 330.8 201.94 331.4 205.3C331.8 207.54 332.4 209.75 332.7 212C333.27 216.31 333.36 220.7 334 225C334.63 229.23 335.47 233.45 336.5 237.6C337.54 241.78 338.78 245.93 340.2 250C341.68 254.26 343.67 258.35 345.2 262.6C347 267.58 348.53 272.67 350.2 277.7C351.86 282.7 353.37 287.76 355.2 292.7C356.31 295.69 357.37 298.82 359 301.5C359.9 302.98 361.66 305.2 362.8 305.2C363.76 305.2 364.98 302.93 365.3 301.5C366.65 295.43 367.08 288.98 367.8 282.7C368.75 274.35 369.47 265.97 370.3 257.6C371.13 249.27 371.8 240.91 372.8 232.6C373.47 227.05 373.71 221.21 375.3 216C375.95 213.88 377.87 211.19 379.5 210.6C380.61 210.19 382.55 211.87 383.5 213C384.49 214.17 384.86 215.95 385.3 217.5C386.7 222.48 387.75 227.57 389 232.6C390.25 237.6 391.71 242.56 392.8 247.6C394.24 254.23 395.35 260.93 396.6 267.6C397.85 274.3 398.88 281.04 400.3 287.7C401.38 292.74 402.47 297.83 404.1 302.7C405.4 306.59 407.17 310.38 409.1 314C410.51 316.64 412.44 320.68 414.1 321.5C414.94 321.91 416.22 319.14 416.6 317.7C417.88 312.88 418.37 307.72 419.1 302.7C420.31 294.38 421.35 286.04 422.4 277.7C423.45 269.34 424.27 260.95 425.4 252.6C426.54 244.22 427.96 235.87 429.2 227.5C430.06 221.67 430.68 215.8 431.7 210C432.12 207.63 432.63 205.24 433.5 203C434.7 199.9 435.89 196.46 437.9 194C439.02 192.63 441.36 191.5 442.9 191.5C443.89 191.5 445.02 192.93 445.5 194C446.72 196.7 447.31 199.83 448 202.8C448.55 205.17 448.87 207.59 449.2 210C449.87 214.99 450.24 220.02 451 225C451.9 230.89 453.03 236.75 454.2 242.6C455.36 248.42 456.66 254.22 458 260C459.16 265.02 460.29 270.05 461.7 275C462.79 278.85 464.02 282.69 465.5 286.4C466.55 289.02 467.89 291.56 469.3 294C469.82 294.9 470.68 296.58 471.3 296.4C472.18 296.15 473.42 294.11 473.8 292.7C475.09 287.88 475.59 282.72 476.3 277.7C477.25 271.02 477.96 264.3 478.8 257.6C479.63 250.93 480.35 244.25 481.3 237.6C482.02 232.55 482.78 227.49 483.8 222.5C484.45 219.29 485.58 216.19 486.3 213C487.64 207.09 488.45 201.05 490 195.2C491.35 190.11 492.78 184.9 495 180.2C496.12 177.83 498.14 175.83 500 174C500.68 173.33 502.15 172.14 502.6 172.7C503.82 174.21 504.57 177.62 505 180.2C505.97 185.96 506.09 191.88 506.8 197.7C507.42 202.81 508.19 207.91 509 213C509.59 216.68 510.4 220.32 511 224C512 230.19 512.59 236.46 513.8 242.6C514.79 247.66 516.22 252.63 517.6 257.6C518.76 261.76 519.99 265.92 521.4 270C522.46 273.05 523.58 276.11 525 279C526.08 281.18 527.38 283.4 528.9 285.2C529.35 285.73 530.49 286.38 530.9 286C531.86 285.11 532.68 283.04 533 281.4C534.05 276.04 534.4 270.47 535 265C535.9 256.67 536.77 248.34 537.5 240C538.2 232.01 538.67 224 539.3 216C539.97 207.4 540.45 198.77 541.4 190.2C542.42 181.01 543.67 171.82 545.2 162.7C546.61 154.29 547.91 145.76 550.2 137.6C551.25 133.86 553.05 130.07 555.2 127C555.99 125.87 557.86 124.89 559 125C559.96 125.09 561.13 126.49 561.5 127.6C562.8 131.49 563.41 135.83 564 140C565.07 147.53 565.71 155.13 566.5 162.7C567.37 171.03 568.1 179.37 569 187.7C569.84 195.47 570.88 203.23 571.7 211C572.28 216.49 572.3 222.07 573.2 227.5C573.9 231.74 575.22 235.89 576.5 240C577.55 243.39 578.89 246.7 580.2 250C581.39 253 582.84 255.89 584 258.9C584.94 261.36 585.43 264.03 586.5 266.4C586.93 267.36 587.97 269.21 588.5 268.9C589.41 268.37 590.4 265.67 590.8 263.9C591.83 259.37 592.26 254.65 592.8 250C593.66 242.52 594.29 235 595 227.5C595.55 221.67 596.16 215.84 596.6 210C597.09 203.41 597.26 196.79 597.8 190.2C598.49 181.86 599.27 173.51 600.3 165.2C601.34 156.78 602.62 148.37 604 140C605.05 133.64 606.24 127.29 607.6 121C608.07 118.83 608.6 116.57 609.5 114.6C609.8 113.93 610.52 113.31 611.2 113.1C612.35 112.74 613.73 112.9 615 112.9C616.27 112.9 617.82 112.56 618.8 113.1C619.68 113.59 620.41 114.89 620.6 116C621.91 123.86 622.41 132 623.3 140C624.41 150.07 625.4 160.15 626.6 170.2C627.7 179.38 629.07 188.53 630.2 197.7C630.7 201.79 631 205.91 631.5 210C631.9 213.34 632.07 216.76 632.9 220C633.77 223.42 635.21 226.74 636.6 230C637.71 232.6 639.3 234.99 640.4 237.6C641.77 240.86 642.68 244.32 644 247.6C644.75 249.45 645.63 252.5 646.6 253C647.19 253.3 648.42 251.17 648.7 250C649.85 245.17 650.26 240.01 650.9 235C651.76 228.34 652.34 221.65 653.2 215C654.27 206.72 655.57 198.47 656.7 190.2C657.84 181.87 658.95 173.54 660 165.2C661.05 156.81 661.97 148.4 663 140C663.7 134.33 664.38 128.65 665.2 123C665.68 119.72 665.98 116.3 666.9 113.2C667.18 112.27 667.97 111.3 668.8 110.9C669.84 110.4 671.26 110.58 672.5 110.5C673.73 110.42 675.35 109.8 676.2 110.4C677.25 111.14 677.94 113.02 678.2 114.5C679.37 121.22 679.78 128.16 680.5 135C681.38 143.39 682.16 151.8 683 160.2C683.83 168.53 684.61 176.87 685.5 185.2C686.38 193.47 687.3 201.74 688.3 210C688.8 214.17 689.35 218.35 690 222.5C690.92 228.35 691.84 234.2 693 240C693.67 243.37 694.13 247.02 695.5 250C696.06 251.22 697.68 252.6 698.8 252.6C700.01 252.6 701.62 251.17 702.5 250C704.12 247.84 705.33 245.19 706.3 242.6C707.83 238.52 708.87 234.23 710 230C711.1 225.86 711.96 221.66 713 217.5C713.63 214.99 714.43 212.52 715 210C715.93 205.92 716.81 201.82 717.5 197.7C718.47 191.89 719.09 186.02 720 180.2C720.92 174.35 721.78 168.48 723 162.7C723.58 159.95 724.35 157.15 725.4 154.6C725.68 153.92 726.67 152.62 727 153C727.94 154.08 728.8 156.92 729.2 159C730.23 164.32 730.64 169.79 731.3 175.2C731.91 180.19 732.19 185.25 733 190.2C733.42 192.75 733.83 195.52 735 197.7C735.76 199.12 737.61 199.83 738.8 201C739.74 201.93 740.83 202.83 741.4 204C742.53 206.33 743.05 209.01 743.9 211.5C744.41 213.01 745.14 214.45 745.5 216C746.18 218.95 746.49 222 747 225C747.99 230.87 748.93 236.75 750 242.6C751.23 249.28 752.64 255.93 753.9 262.6C755.17 269.29 756.32 276.01 757.6 282.7C758.56 287.71 759.26 292.81 760.6 297.7C761.13 299.64 762.42 303.2 763.2 303.2C763.95 303.2 764.83 299.61 765.2 297.7C766.33 291.94 766.85 286.03 767.7 280.2C768.92 271.8 770.15 263.4 771.4 255C772.65 246.66 773.99 238.34 775.2 230C776.02 224.34 776.63 218.65 777.5 213C778.29 207.88 779.11 202.76 780.2 197.7C781.28 192.66 782.45 187.6 784 182.7C784.95 179.7 786.07 176.61 787.7 174C788.57 172.61 790.17 171.08 791.5 170.7C792.27 170.48 793.68 171.34 794 172.2C795.18 175.34 795.47 179.18 796 182.7C796.87 188.51 797.53 194.36 798.2 200.2C798.69 204.46 799.02 208.74 799.5 213C799.95 217.01 800.39 221.02 801 225C801.89 230.88 802.87 236.76 804 242.6C805.13 248.43 806.25 254.28 807.8 260C809.18 265.08 811.08 270.02 812.8 275C814.42 279.68 815.98 284.4 817.8 289C818.71 291.3 819.79 294.88 821 295.7C821.62 296.12 822.98 293.89 823.3 292.7C824.58 287.89 825.13 282.72 825.8 277.7C826.8 270.16 827.46 262.57 828.3 255C829.13 247.53 830.05 240.08 830.8 232.6C831.45 226.08 832.01 219.54 832.5 213C833.07 205.41 833.27 197.78 834 190.2C834.64 183.51 835.56 176.84 836.6 170.2C837.66 163.44 838.84 156.68 840.3 150C841.3 145.41 842.39 140.78 844 136.4C844.89 133.98 846.22 131.48 847.8 129.6C848.35 128.94 849.7 128.54 850.4 128.8C851.23 129.11 852.14 130.29 852.4 131.3C853.34 134.89 853.57 138.82 854 142.6C854.77 149.29 855.31 156 856 162.7C856.77 170.2 857.62 177.7 858.4 185.2C859.19 192.8 859.94 200.4 860.7 208C861.27 213.67 861.54 219.38 862.4 225C863.11 229.65 864.02 234.33 865.4 238.8C866.22 241.43 867.47 244.04 869 246.3C870 247.78 871.7 248.73 873 250C874.27 251.23 875.3 252.8 876.7 253.8C877.63 254.46 879.11 255.35 880 255C881.21 254.52 882.31 252.71 883 251.3C884.54 248.14 885.19 244.5 886.7 241.3C887.66 239.26 888.87 237.19 890.4 235.6C891.53 234.42 893.27 233.87 894.7 233" stroke="#000" stroke-opacity="0.06" stroke-width="2.8" transform="translate(1,1)"/>
<path d="M29.5 251.3C31.33 254.2 33.42 256.96 35 260C37.35 264.53 39.58 269.19 41.3 274C43.78 280.93 45.67 288.09 47.6 295.2C49.83 303.42 51.57 311.78 53.8 320C54.9 324.05 56.27 328.02 57.6 332C58.77 335.52 59.74 339.17 61.3 342.5C62.24 344.5 64 348 65.1 348C66.1 348 67.12 344.44 67.6 342.5C68.62 338.44 69.11 334.19 69.6 330C70.38 323.36 70.36 316.59 71.4 310C72.2 304.93 73.26 299.73 75.1 295C76.16 292.29 79.21 290.46 80.1 287.7C82.15 281.32 82.63 274.3 83.9 267.6C85.16 260.93 85.96 254.11 87.7 247.6C88.46 244.78 89.75 241.86 91.4 239.6C92.09 238.66 93.86 237.6 94.7 238C95.96 238.6 97.17 240.87 97.7 242.6C99.41 248.2 100.37 254.16 101.4 260C102.87 268.3 103.63 276.73 105.2 285C106.16 290.06 107.23 295.37 109 300C109.33 300.87 110.77 301.84 111.5 301.5C113.27 300.67 114.63 297.32 116.5 296.5C117.53 296.05 119.15 297 120.2 297.7C121.65 298.67 122.98 302.08 124 301.5C125.92 300.41 127.82 295.84 129 292.7C131.15 287 132.24 280.87 134 275C136.01 268.31 137.88 261.55 140.3 255C142.48 249.08 145.15 243.33 147.8 237.6C149.31 234.33 150.8 230.83 152.8 228C153.3 227.3 154.96 226.37 155.3 227C156.69 229.57 157.34 234.02 158 237.6C159.84 247.55 161.4 257.57 162.8 267.6C164.07 276.71 164.59 285.95 166 295C166.26 296.65 166.77 299.49 167.8 299.7C169.03 299.95 171.09 297.43 172.8 296.4C173.59 295.93 174.78 294.68 175.3 295.2C176.88 296.78 177.9 300.17 179.1 302.7C180.27 305.17 181.34 310.2 182.4 310.2C183.44 310.2 184.86 305.32 185.4 302.7C187.09 294.49 187.91 286.04 189.1 277.7C190.41 268.47 191.66 259.24 192.9 250C194.16 240.67 195.1 231.29 196.6 222C197.76 214.82 199.07 207.62 200.9 200.6C201.74 197.38 203.02 194.18 204.6 191.3C205.45 189.75 206.81 188.35 208.2 187.3C209.01 186.68 210.46 185.9 211.2 186.3C212.36 186.93 213.41 188.87 213.9 190.4C214.88 193.44 215.12 196.79 215.6 200C216.15 203.65 216.42 207.35 217 211C218.02 217.35 219.36 223.65 220.4 230C221.76 238.32 222.68 246.72 224.2 255C225.21 260.52 226.11 266.19 228 271.4C229.05 274.29 231.13 276.83 233 279.3C234.13 280.8 235.58 282.07 237 283.3C237.85 284.04 238.91 285.25 239.8 285.2C240.68 285.15 241.87 283.98 242.3 283C243.37 280.58 243.82 277.7 244.3 275C245.32 269.24 246.07 263.41 246.8 257.6C247.74 250.08 248.59 242.54 249.3 235C249.89 228.68 250.25 222.33 250.7 216C251.31 207.4 251.51 198.75 252.5 190.2C253.37 182.65 254.33 174.97 256.3 167.7C257.26 164.14 259.06 160.42 261.3 157.7C262.39 156.38 264.58 156.02 266.3 155.6C267.48 155.32 269.43 154.73 270 155.6C271.53 157.93 272.05 161.94 272.6 165.2C273.72 171.81 274.11 178.54 275 185.2C275.78 191.08 276.69 196.94 277.6 202.8C278.13 206.21 278.84 209.59 279.3 213C280.07 218.65 280.59 224.34 281.3 230C282.35 238.34 283.43 246.68 284.6 255C285.53 261.68 286.37 268.38 287.6 275C288.17 278.05 288.57 281.51 290 284C290.67 285.17 292.51 285.69 293.9 286C295.48 286.36 297.48 286.58 298.9 286C300.18 285.48 301.54 284.09 302 282.7C303.57 277.96 304.24 272.67 305 267.6C306.24 259.31 306.84 250.91 308 242.6C308.71 237.54 309.29 232.39 310.6 227.5C311.26 225.03 312.25 222.21 313.9 220.5C315.05 219.31 317.64 219.8 319 218.8C320.14 217.97 320.79 216.35 321.4 215C322.12 213.42 322.57 211.69 323 210C323.84 206.69 324.27 203.27 325.2 200C325.83 197.77 326.61 194.66 327.7 193.5C328.11 193.06 329.45 194.4 329.7 195.2C330.68 198.33 330.8 201.94 331.4 205.3C331.8 207.54 332.4 209.75 332.7 212C333.27 216.31 333.36 220.7 334 225C334.63 229.23 335.47 233.45 336.5 237.6C337.54 241.78 338.78 245.93 340.2 250C341.68 254.26 343.67 258.35 345.2 262.6C347 267.58 348.53 272.67 350.2 277.7C351.86 282.7 353.37 287.76 355.2 292.7C356.31 295.69 357.37 298.82 359 301.5C359.9 302.98 361.66 305.2 362.8 305.2C363.76 305.2 364.98 302.93 365.3 301.5C366.65 295.43 367.08 288.98 367.8 282.7C368.75 274.35 369.47 265.97 370.3 257.6C371.13 249.27 371.8 240.91 372.8 232.6C373.47 227.05 373.71 221.21 375.3 216C375.95 213.88 377.87 211.19 379.5 210.6C380.61 210.19 382.55 211.87 383.5 213C384.49 214.17 384.86 215.95 385.3 217.5C386.7 222.48 387.75 227.57 389 232.6C390.25 237.6 391.71 242.56 392.8 247.6C394.24 254.23 395.35 260.93 396.6 267.6C397.85 274.3 398.88 281.04 400.3 287.7C401.38 292.74 402.47 297.83 404.1 302.7C405.4 306.59 407.17 310.38 409.1 314C410.51 316.64 412.44 320.68 414.1 321.5C414.94 321.91 416.22 319.14 416.6 317.7C417.88 312.88 418.37 307.72 419.1 302.7C420.31 294.38 421.35 286.04 422.4 277.7C423.45 269.34 424.27 260.95 425.4 252.6C426.54 244.22 427.96 235.87 429.2 227.5C430.06 221.67 430.68 215.8 431.7 210C432.12 207.63 432.63 205.24 433.5 203C434.7 199.9 435.89 196.46 437.9 194C439.02 192.63 441.36 191.5 442.9 191.5C443.89 191.5 445.02 192.93 445.5 194C446.72 196.7 447.31 199.83 448 202.8C448.55 205.17 448.87 207.59 449.2 210C449.87 214.99 450.24 220.02 451 225C451.9 230.89 453.03 236.75 454.2 242.6C455.36 248.42 456.66 254.22 458 260C459.16 265.02 460.29 270.05 461.7 275C462.79 278.85 464.02 282.69 465.5 286.4C466.55 289.02 467.89 291.56 469.3 294C469.82 294.9 470.68 296.58 471.3 296.4C472.18 296.15 473.42 294.11 473.8 292.7C475.09 287.88 475.59 282.72 476.3 277.7C477.25 271.02 477.96 264.3 478.8 257.6C479.63 250.93 480.35 244.25 481.3 237.6C482.02 232.55 482.78 227.49 483.8 222.5C484.45 219.29 485.58 216.19 486.3 213C487.64 207.09 488.45 201.05 490 195.2C491.35 190.11 492.78 184.9 495 180.2C496.12 177.83 498.14 175.83 500 174C500.68 173.33 502.15 172.14 502.6 172.7C503.82 174.21 504.57 177.62 505 180.2C505.97 185.96 506.09 191.88 506.8 197.7C507.42 202.81 508.19 207.91 509 213C509.59 216.68 510.4 220.32 511 224C512 230.19 512.59 236.46 513.8 242.6C514.79 247.66 516.22 252.63 517.6 257.6C518.76 261.76 519.99 265.92 521.4 270C522.46 273.05 523.58 276.11 525 279C526.08 281.18 527.38 283.4 528.9 285.2C529.35 285.73 530.49 286.38 530.9 286C531.86 285.11 532.68 283.04 533 281.4C534.05 276.04 534.4 270.47 535 265C535.9 256.67 536.77 248.34 537.5 240C538.2 232.01 538.67 224 539.3 216C539.97 207.4 540.45 198.77 541.4 190.2C542.42 181.01 543.67 171.82 545.2 162.7C546.61 154.29 547.91 145.76 550.2 137.6C551.25 133.86 553.05 130.07 555.2 127C555.99 125.87 557.86 124.89 559 125C559.96 125.09 561.13 126.49 561.5 127.6C562.8 131.49 563.41 135.83 564 140C565.07 147.53 565.71 155.13 566.5 162.7C567.37 171.03 568.1 179.37 569 187.7C569.84 195.47 570.88 203.23 571.7 211C572.28 216.49 572.3 222.07 573.2 227.5C573.9 231.74 575.22 235.89 576.5 240C577.55 243.39 578.89 246.7 580.2 250C581.39 253 582.84 255.89 584 258.9C584.94 261.36 585.43 264.03 586.5 266.4C586.93 267.36 587.97 269.21 588.5 268.9C589.41 268.37 590.4 265.67 590.8 263.9C591.83 259.37 592.26 254.65 592.8 250C593.66 242.52 594.29 235 595 227.5C595.55 221.67 596.16 215.84 596.6 210C597.09 203.41 597.26 196.79 597.8 190.2C598.49 181.86 599.27 173.51 600.3 165.2C601.34 156.78 602.62 148.37 604 140C605.05 133.64 606.24 127.29 607.6 121C608.07 118.83 608.6 116.57 609.5 114.6C609.8 113.93 610.52 113.31 611.2 113.1C612.35 112.74 613.73 112.9 615 112.9C616.27 112.9 617.82 112.56 618.8 113.1C619.68 113.59 620.41 114.89 620.6 116C621.91 123.86 622.41 132 623.3 140C624.41 150.07 625.4 160.15 626.6 170.2C627.7 179.38 629.07 188.53 630.2 197.7C630.7 201.79 631 205.91 631.5 210C631.9 213.34 632.07 216.76 632.9 220C633.77 223.42 635.21 226.74 636.6 230C637.71 232.6 639.3 234.99 640.4 237.6C641.77 240.86 642.68 244.32 644 247.6C644.75 249.45 645.63 252.5 646.6 253C647.19 253.3 648.42 251.17 648.7 250C649.85 245.17 650.26 240.01 650.9 235C651.76 228.34 652.34 221.65 653.2 215C654.27 206.72 655.57 198.47 656.7 190.2C657.84 181.87 658.95 173.54 660 165.2C661.05 156.81 661.97 148.4 663 140C663.7 134.33 664.38 128.65 665.2 123C665.68 119.72 665.98 116.3 666.9 113.2C667.18 112.27 667.97 111.3 668.8 110.9C669.84 110.4 671.26 110.58 672.5 110.5C673.73 110.42 675.35 109.8 676.2 110.4C677.25 111.14 677.94 113.02 678.2 114.5C679.37 121.22 679.78 128.16 680.5 135C681.38 143.39 682.16 151.8 683 160.2C683.83 168.53 684.61 176.87 685.5 185.2C686.38 193.47 687.3 201.74 688.3 210C688.8 214.17 689.35 218.35 690 222.5C690.92 228.35 691.84 234.2 693 240C693.67 243.37 694.13 247.02 695.5 250C696.06 251.22 697.68 252.6 698.8 252.6C700.01 252.6 701.62 251.17 702.5 250C704.12 247.84 705.33 245.19 706.3 242.6C707.83 238.52 708.87 234.23 710 230C711.1 225.86 711.96 221.66 713 217.5C713.63 214.99 714.43 212.52 715 210C715.93 205.92 716.81 201.82 717.5 197.7C718.47 191.89 719.09 186.02 720 180.2C720.92 174.35 721.78 168.48 723 162.7C723.58 159.95 724.35 157.15 725.4 154.6C725.68 153.92 726.67 152.62 727 153C727.94 154.08 728.8 156.92 729.2 159C730.23 164.32 730.64 169.79 731.3 175.2C731.91 180.19 732.19 185.25 733 190.2C733.42 192.75 733.83 195.52 735 197.7C735.76 199.12 737.61 199.83 738.8 201C739.74 201.93 740.83 202.83 741.4 204C742.53 206.33 743.05 209.01 743.9 211.5C744.41 213.01 745.14 214.45 745.5 216C746.18 218.95 746.49 222 747 225C747.99 230.87 748.93 236.75 750 242.6C751.23 249.28 752.64 255.93 753.9 262.6C755.17 269.29 756.32 276.01 757.6 282.7C758.56 287.71 759.26 292.81 760.6 297.7C761.13 299.64 762.42 303.2 763.2 303.2C763.95 303.2 764.83 299.61 765.2 297.7C766.33 291.94 766.85 286.03 767.7 280.2C768.92 271.8 770.15 263.4 771.4 255C772.65 246.66 773.99 238.34 775.2 230C776.02 224.34 776.63 218.65 777.5 213C778.29 207.88 779.11 202.76 780.2 197.7C781.28 192.66 782.45 187.6 784 182.7C784.95 179.7 786.07 176.61 787.7 174C788.57 172.61 790.17 171.08 791.5 170.7C792.27 170.48 793.68 171.34 794 172.2C795.18 175.34 795.47 179.18 796 182.7C796.87 188.51 797.53 194.36 798.2 200.2C798.69 204.46 799.02 208.74 799.5 213C799.95 217.01 800.39 221.02 801 225C801.89 230.88 802.87 236.76 804 242.6C805.13 248.43 806.25 254.28 807.8 260C809.18 265.08 811.08 270.02 812.8 275C814.42 279.68 815.98 284.4 817.8 289C818.71 291.3 819.79 294.88 821 295.7C821.62 296.12 822.98 293.89 823.3 292.7C824.58 287.89 825.13 282.72 825.8 277.7C826.8 270.16 827.46 262.57 828.3 255C829.13 247.53 830.05 240.08 830.8 232.6C831.45 226.08 832.01 219.54 832.5 213C833.07 205.41 833.27 197.78 834 190.2C834.64 183.51 835.56 176.84 836.6 170.2C837.66 163.44 838.84 156.68 840.3 150C841.3 145.41 842.39 140.78 844 136.4C844.89 133.98 846.22 131.48 847.8 129.6C848.35 128.94 849.7 128.54 850.4 128.8C851.23 129.11 852.14 130.29 852.4 131.3C853.34 134.89 853.57 138.82 854 142.6C854.77 149.29 855.31 156 856 162.7C856.77 170.2 857.62 177.7 858.4 185.2C859.19 192.8 859.94 200.4 860.7 208C861.27 213.67 861.54 219.38 862.4 225C863.11 229.65 864.02 234.33 865.4 238.8C866.22 241.43 867.47 244.04 869 246.3C870 247.78 871.7 248.73 873 250C874.27 251.23 875.3 252.8 876.7 253.8C877.63 254.46 879.11 255.35 880 255C881.21 254.52 882.31 252.71 883 251.3C884.54 248.14 885.19 244.5 886.7 241.3C887.66 239.26 888.87 237.19 890.4 235.6C891.53 234.42 893.27 233.87 894.7 233" stroke="#000" stroke-opacity="0.10" stroke-width="1" transform="translate(1,1)"/>
<path d="M29.5 251.3C31.33 254.2 33.42 256.96 35 260C37.35 264.53 39.58 269.19 41.3 274C43.78 280.93 45.67 288.09 47.6 295.2C49.83 303.42 51.57 311.78 53.8 320C54.9 324.05 56.27 328.02 57.6 332C58.77 335.52 59.74 339.17 61.3 342.5C62.24 344.5 64 348 65.1 348C66.1 348 67.12 344.44 67.6 342.5C68.62 338.44 69.11 334.19 69.6 330C70.38 323.36 70.36 316.59 71.4 310C72.2 304.93 73.26 299.73 75.1 295C76.16 292.29 79.21 290.46 80.1 287.7C82.15 281.32 82.63 274.3 83.9 267.6C85.16 260.93 85.96 254.11 87.7 247.6C88.46 244.78 89.75 241.86 91.4 239.6C92.09 238.66 93.86 237.6 94.7 238C95.96 238.6 97.17 240.87 97.7 242.6C99.41 248.2 100.37 254.16 101.4 260C102.87 268.3 103.63 276.73 105.2 285C106.16 290.06 107.23 295.37 109 300C109.33 300.87 110.77 301.84 111.5 301.5C113.27 300.67 114.63 297.32 116.5 296.5C117.53 296.05 119.15 297 120.2 297.7C121.65 298.67 122.98 302.08 124 301.5C125.92 300.41 127.82 295.84 129 292.7C131.15 287 132.24 280.87 134 275C136.01 268.31 137.88 261.55 140.3 255C142.48 249.08 145.15 243.33 147.8 237.6C149.31 234.33 150.8 230.83 152.8 228C153.3 227.3 154.96 226.37 155.3 227C156.69 229.57 157.34 234.02 158 237.6C159.84 247.55 161.4 257.57 162.8 267.6C164.07 276.71 164.59 285.95 166 295C166.26 296.65 166.77 299.49 167.8 299.7C169.03 299.95 171.09 297.43 172.8 296.4C173.59 295.93 174.78 294.68 175.3 295.2C176.88 296.78 177.9 300.17 179.1 302.7C180.27 305.17 181.34 310.2 182.4 310.2C183.44 310.2 184.86 305.32 185.4 302.7C187.09 294.49 187.91 286.04 189.1 277.7C190.41 268.47 191.66 259.24 192.9 250C194.16 240.67 195.1 231.29 196.6 222C197.76 214.82 199.07 207.62 200.9 200.6C201.74 197.38 203.02 194.18 204.6 191.3C205.45 189.75 206.81 188.35 208.2 187.3C209.01 186.68 210.46 185.9 211.2 186.3C212.36 186.93 213.41 188.87 213.9 190.4C214.88 193.44 215.12 196.79 215.6 200C216.15 203.65 216.42 207.35 217 211C218.02 217.35 219.36 223.65 220.4 230C221.76 238.32 222.68 246.72 224.2 255C225.21 260.52 226.11 266.19 228 271.4C229.05 274.29 231.13 276.83 233 279.3C234.13 280.8 235.58 282.07 237 283.3C237.85 284.04 238.91 285.25 239.8 285.2C240.68 285.15 241.87 283.98 242.3 283C243.37 280.58 243.82 277.7 244.3 275C245.32 269.24 246.07 263.41 246.8 257.6C247.74 250.08 248.59 242.54 249.3 235C249.89 228.68 250.25 222.33 250.7 216C251.31 207.4 251.51 198.75 252.5 190.2C253.37 182.65 254.33 174.97 256.3 167.7C257.26 164.14 259.06 160.42 261.3 157.7C262.39 156.38 264.58 156.02 266.3 155.6C267.48 155.32 269.43 154.73 270 155.6C271.53 157.93 272.05 161.94 272.6 165.2C273.72 171.81 274.11 178.54 275 185.2C275.78 191.08 276.69 196.94 277.6 202.8C278.13 206.21 278.84 209.59 279.3 213C280.07 218.65 280.59 224.34 281.3 230C282.35 238.34 283.43 246.68 284.6 255C285.53 261.68 286.37 268.38 287.6 275C288.17 278.05 288.57 281.51 290 284C290.67 285.17 292.51 285.69 293.9 286C295.48 286.36 297.48 286.58 298.9 286C300.18 285.48 301.54 284.09 302 282.7C303.57 277.96 304.24 272.67 305 267.6C306.24 259.31 306.84 250.91 308 242.6C308.71 237.54 309.29 232.39 310.6 227.5C311.26 225.03 312.25 222.21 313.9 220.5C315.05 219.31 317.64 219.8 319 218.8C320.14 217.97 320.79 216.35 321.4 215C322.12 213.42 322.57 211.69 323 210C323.84 206.69 324.27 203.27 325.2 200C325.83 197.77 326.61 194.66 327.7 193.5C328.11 193.06 329.45 194.4 329.7 195.2C330.68 198.33 330.8 201.94 331.4 205.3C331.8 207.54 332.4 209.75 332.7 212C333.27 216.31 333.36 220.7 334 225C334.63 229.23 335.47 233.45 336.5 237.6C337.54 241.78 338.78 245.93 340.2 250C341.68 254.26 343.67 258.35 345.2 262.6C347 267.58 348.53 272.67 350.2 277.7C351.86 282.7 353.37 287.76 355.2 292.7C356.31 295.69 357.37 298.82 359 301.5C359.9 302.98 361.66 305.2 362.8 305.2C363.76 305.2 364.98 302.93 365.3 301.5C366.65 295.43 367.08 288.98 367.8 282.7C368.75 274.35 369.47 265.97 370.3 257.6C371.13 249.27 371.8 240.91 372.8 232.6C373.47 227.05 373.71 221.21 375.3 216C375.95 213.88 377.87 211.19 379.5 210.6C380.61 210.19 382.55 211.87 383.5 213C384.49 214.17 384.86 215.95 385.3 217.5C386.7 222.48 387.75 227.57 389 232.6C390.25 237.6 391.71 242.56 392.8 247.6C394.24 254.23 395.35 260.93 396.6 267.6C397.85 274.3 398.88 281.04 400.3 287.7C401.38 292.74 402.47 297.83 404.1 302.7C405.4 306.59 407.17 310.38 409.1 314C410.51 316.64 412.44 320.68 414.1 321.5C414.94 321.91 416.22 319.14 416.6 317.7C417.88 312.88 418.37 307.72 419.1 302.7C420.31 294.38 421.35 286.04 422.4 277.7C423.45 269.34 424.27 260.95 425.4 252.6C426.54 244.22 427.96 235.87 429.2 227.5C430.06 221.67 430.68 215.8 431.7 210C432.12 207.63 432.63 205.24 433.5 203C434.7 199.9 435.89 196.46 437.9 194C439.02 192.63 441.36 191.5 442.9 191.5C443.89 191.5 445.02 192.93 445.5 194C446.72 196.7 447.31 199.83 448 202.8C448.55 205.17 448.87 207.59 449.2 210C449.87 214.99 450.24 220.02 451 225C451.9 230.89 453.03 236.75 454.2 242.6C455.36 248.42 456.66 254.22 458 260C459.16 265.02 460.29 270.05 461.7 275C462.79 278.85 464.02 282.69 465.5 286.4C466.55 289.02 467.89 291.56 469.3 294C469.82 294.9 470.68 296.58 471.3 296.4C472.18 296.15 473.42 294.11 473.8 292.7C475.09 287.88 475.59 282.72 476.3 277.7C477.25 271.02 477.96 264.3 478.8 257.6C479.63 250.93 480.35 244.25 481.3 237.6C482.02 232.55 482.78 227.49 483.8 222.5C484.45 219.29 485.58 216.19 486.3 213C487.64 207.09 488.45 201.05 490 195.2C491.35 190.11 492.78 184.9 495 180.2C496.12 177.83 498.14 175.83 500 174C500.68 173.33 502.15 172.14 502.6 172.7C503.82 174.21 504.57 177.62 505 180.2C505.97 185.96 506.09 191.88 506.8 197.7C507.42 202.81 508.19 207.91 509 213C509.59 216.68 510.4 220.32 511 224C512 230.19 512.59 236.46 513.8 242.6C514.79 247.66 516.22 252.63 517.6 257.6C518.76 261.76 519.99 265.92 521.4 270C522.46 273.05 523.58 276.11 525 279C526.08 281.18 527.38 283.4 528.9 285.2C529.35 285.73 530.49 286.38 530.9 286C531.86 285.11 532.68 283.04 533 281.4C534.05 276.04 534.4 270.47 535 265C535.9 256.67 536.77 248.34 537.5 240C538.2 232.01 538.67 224 539.3 216C539.97 207.4 540.45 198.77 541.4 190.2C542.42 181.01 543.67 171.82 545.2 162.7C546.61 154.29 547.91 145.76 550.2 137.6C551.25 133.86 553.05 130.07 555.2 127C555.99 125.87 557.86 124.89 559 125C559.96 125.09 561.13 126.49 561.5 127.6C562.8 131.49 563.41 135.83 564 140C565.07 147.53 565.71 155.13 566.5 162.7C567.37 171.03 568.1 179.37 569 187.7C569.84 195.47 570.88 203.23 571.7 211C572.28 216.49 572.3 222.07 573.2 227.5C573.9 231.74 575.22 235.89 576.5 240C577.55 243.39 578.89 246.7 580.2 250C581.39 253 582.84 255.89 584 258.9C584.94 261.36 585.43 264.03 586.5 266.4C586.93 267.36 587.97 269.21 588.5 268.9C589.41 268.37 590.4 265.67 590.8 263.9C591.83 259.37 592.26 254.65 592.8 250C593.66 242.52 594.29 235 595 227.5C595.55 221.67 596.16 215.84 596.6 210C597.09 203.41 597.26 196.79 597.8 190.2C598.49 181.86 599.27 173.51 600.3 165.2C601.34 156.78 602.62 148.37 604 140C605.05 133.64 606.24 127.29 607.6 121C608.07 118.83 608.6 116.57 609.5 114.6C609.8 113.93 610.52 113.31 611.2 113.1C612.35 112.74 613.73 112.9 615 112.9C616.27 112.9 617.82 112.56 618.8 113.1C619.68 113.59 620.41 114.89 620.6 116C621.91 123.86 622.41 132 623.3 140C624.41 150.07 625.4 160.15 626.6 170.2C627.7 179.38 629.07 188.53 630.2 197.7C630.7 201.79 631 205.91 631.5 210C631.9 213.34 632.07 216.76 632.9 220C633.77 223.42 635.21 226.74 636.6 230C637.71 232.6 639.3 234.99 640.4 237.6C641.77 240.86 642.68 244.32 644 247.6C644.75 249.45 645.63 252.5 646.6 253C647.19 253.3 648.42 251.17 648.7 250C649.85 245.17 650.26 240.01 650.9 235C651.76 228.34 652.34 221.65 653.2 215C654.27 206.72 655.57 198.47 656.7 190.2C657.84 181.87 658.95 173.54 660 165.2C661.05 156.81 661.97 148.4 663 140C663.7 134.33 664.38 128.65 665.2 123C665.68 119.72 665.98 116.3 666.9 113.2C667.18 112.27 667.97 111.3 668.8 110.9C669.84 110.4 671.26 110.58 672.5 110.5C673.73 110.42 675.35 109.8 676.2 110.4C677.25 111.14 677.94 113.02 678.2 114.5C679.37 121.22 679.78 128.16 680.5 135C681.38 143.39 682.16 151.8 683 160.2C683.83 168.53 684.61 176.87 685.5 185.2C686.38 193.47 687.3 201.74 688.3 210C688.8 214.17 689.35 218.35 690 222.5C690.92 228.35 691.84 234.2 693 240C693.67 243.37 694.13 247.02 695.5 250C696.06 251.22 697.68 252.6 698.8 252.6C700.01 252.6 701.62 251.17 702.5 250C704.12 247.84 705.33 245.19 706.3 242.6C707.83 238.52 708.87 234.23 710 230C711.1 225.86 711.96 221.66 713 217.5C713.63 214.99 714.43 212.52 715 210C715.93 205.92 716.81 201.82 717.5 197.7C718.47 191.89 719.09 186.02 720 180.2C720.92 174.35 721.78 168.48 723 162.7C723.58 159.95 724.35 157.15 725.4 154.6C725.68 153.92 726.67 152.62 727 153C727.94 154.08 728.8 156.92 729.2 159C730.23 164.32 730.64 169.79 731.3 175.2C731.91 180.19 732.19 185.25 733 190.2C733.42 192.75 733.83 195.52 735 197.7C735.76 199.12 737.61 199.83 738.8 201C739.74 201.93 740.83 202.83 741.4 204C742.53 206.33 743.05 209.01 743.9 211.5C744.41 213.01 745.14 214.45 745.5 216C746.18 218.95 746.49 222 747 225C747.99 230.87 748.93 236.75 750 242.6C751.23 249.28 752.64 255.93 753.9 262.6C755.17 269.29 756.32 276.01 757.6 282.7C758.56 287.71 759.26 292.81 760.6 297.7C761.13 299.64 762.42 303.2 763.2 303.2C763.95 303.2 764.83 299.61 765.2 297.7C766.33 291.94 766.85 286.03 767.7 280.2C768.92 271.8 770.15 263.4 771.4 255C772.65 246.66 773.99 238.34 775.2 230C776.02 224.34 776.63 218.65 777.5 213C778.29 207.88 779.11 202.76 780.2 197.7C781.28 192.66 782.45 187.6 784 182.7C784.95 179.7 786.07 176.61 787.7 174C788.57 172.61 790.17 171.08 791.5 170.7C792.27 170.48 793.68 171.34 794 172.2C795.18 175.34 795.47 179.18 796 182.7C796.87 188.51 797.53 194.36 798.2 200.2C798.69 204.46 799.02 208.74 799.5 213C799.95 217.01 800.39 221.02 801 225C801.89 230.88 802.87 236.76 804 242.6C805.13 248.43 806.25 254.28 807.8 260C809.18 265.08 811.08 270.02 812.8 275C814.42 279.68 815.98 284.4 817.8 289C818.71 291.3 819.79 294.88 821 295.7C821.62 296.12 822.98 293.89 823.3 292.7C824.58 287.89 825.13 282.72 825.8 277.7C826.8 270.16 827.46 262.57 828.3 255C829.13 247.53 830.05 240.08 830.8 232.6C831.45 226.08 832.01 219.54 832.5 213C833.07 205.41 833.27 197.78 834 190.2C834.64 183.51 835.56 176.84 836.6 170.2C837.66 163.44 838.84 156.68 840.3 150C841.3 145.41 842.39 140.78 844 136.4C844.89 133.98 846.22 131.48 847.8 129.6C848.35 128.94 849.7 128.54 850.4 128.8C851.23 129.11 852.14 130.29 852.4 131.3C853.34 134.89 853.57 138.82 854 142.6C854.77 149.29 855.31 156 856 162.7C856.77 170.2 857.62 177.7 858.4 185.2C859.19 192.8 859.94 200.4 860.7 208C861.27 213.67 861.54 219.38 862.4 225C863.11 229.65 864.02 234.33 865.4 238.8C866.22 241.43 867.47 244.04 869 246.3C870 247.78 871.7 248.73 873 250C874.27 251.23 875.3 252.8 876.7 253.8C877.63 254.46 879.11 255.35 880 255C881.21 254.52 882.31 252.71 883 251.3C884.54 248.14 885.19 244.5 886.7 241.3C887.66 239.26 888.87 237.19 890.4 235.6C891.53 234.42 893.27 233.87 894.7 233" stroke="#e03037" stroke-width="1.8"/>
</g>
<text x="290.8" y="401.9" text-anchor="middle" font-size="8" font-weight="bold" fill="#3a3a3a" stroke="#fff" stroke-width="2" stroke-linejoin="round" paint-order="stroke">0.4</text>
<text x="347.2" y="420.7" text-anchor="middle" font-size="8" font-weight="bold" fill="#3a3a3a" stroke="#fff" stroke-width="2" stroke-linejoin="round" paint-order="stroke">0.1</text>
<text x="355.3" y="398" text-anchor="middle" font-size="8" font-weight="bold" fill="#3a3a3a" stroke="#fff" stroke-width="2" stroke-linejoin="round" paint-order="stroke">0.4</text>
<text x="362.8" y="336.8" text-anchor="middle" font-size="8" font-weight="bold" fill="#3a3a3a" stroke="#fff" stroke-width="2" stroke-linejoin="round" paint-order="stroke">1.6</text>
<text x="689.7" y="416.2" text-anchor="middle" font-size="8" font-weight="bold" fill="#3a3a3a" stroke="#fff" stroke-width="2" stroke-linejoin="round" paint-order="stroke">0.1</text>
<text x="718.8" y="419.4" text-anchor="middle" font-size="8" font-weight="bold" fill="#3a3a3a" stroke="#fff" stroke-width="2" stroke-linejoin="round" paint-order="stroke">0.1</text>
<use href="#sun" x="41.5" y="266.1"/>
<use href="#moon" x="57" y="319.5"/>
<use href="#cloud" x="70.9" y="279.7"/>
<use href="#pc" x="86.9" y="229.9"/>
<use href="#cloud" x="99.8" y="252"/>
<use href="#cloud" x="114.5" y="276.4"/>
<use href="#cloud" x="129" y="267.6"/>
<use href="#cloud" x="143.3" y="221.3"/>
<use href="#sun" x="157.5" y="231.8"/>
<use href="#mc" x="172.8" y="275.6"/>
<use href="#ms" x="185.3" y="249.4"/>
<use href="#sun" x="201.3" y="176.6"/>
<use href="#sun" x="216" y="209"/>
<use href="#mc" x="231" y="261.4"/>
<use href="#ms" x="243.9" y="225.3"/>
<use href="#sun" x="259.5" y="140.6"/>
<use href="#sun" x="274" y="184"/>
<use href="#drop" x="288.8" y="266.6"/>
<use href="#cloud" x="303.1" y="248.8"/>
<use href="#cloud" x="317.7" y="199"/>
<use href="#cloud" x="332.2" y="212.6"/>
<use href="#cloud" x="347" y="256.9"/>
<use href="#rain" x="361.2" y="285.2"/>
<use href="#cloud" x="376" y="191"/>
<use href="#ms" x="388.7" y="229.3"/>
<use href="#mc" x="405" y="291"/>
<use href="#ms" x="417.4" y="248.8"/>
<use href="#sun" x="433.6" y="180.2"/>
<use href="#pc" x="449.8" y="214.4"/>
<use href="#moon" x="463.5" y="271.4"/>
<use href="#sun" x="484.5" y="187.7"/>
<use href="#sun" x="499" y="155.1"/>
<use href="#moon" x="514.6" y="235.6"/>
<use href="#moon" x="528.9" y="268.1"/>
<use href="#sun" x="542.9" y="147.6"/>
<use href="#sun" x="557.4" y="108"/>
<use href="#moon" x="572.1" y="215"/>
<use href="#moon" x="587" y="250"/>
<use href="#sun" x="600.5" y="123.8"/>
<use href="#sun" x="615.5" y="96"/>
<use href="#moon" x="630.4" y="199"/>
<use href="#moon" x="644.9" y="234.6"/>
<use href="#sun" x="658.6" y="120.1"/>
<use href="#pc" x="675.1" y="95.2"/>
<use href="#cloud" x="688.5" y="212.4"/>
<use href="#cloud" x="702.8" y="229.4"/>
<use href="#pc" x="719" y="170.6"/>
<use href="#cloud" x="731.9" y="179.1"/>
<use href="#moon" x="747.3" y="219.8"/>
<use href="#moon" x="761.4" y="284.7"/>
<use href="#sun" x="775.4" y="192"/>
<use href="#sun" x="789.9" y="153.9"/>
<use href="#moon" x="804.7" y="242.6"/>
<use href="#moon" x="819.5" y="277.7"/>
<use href="#sun" x="833.7" y="156"/>
<use href="#sun" x="848" y="111.8"/>
<use href="#moon" x="862.9" y="220"/>
<use href="#moon" x="878" y="236.3"/>
<use href="#cloud" x="891.7" y="213.3"/>
<g fill="none" stroke="#0a0a0a" stroke-width="2" stroke-linejoin="miter">
<g transform="translate(37.9,446.3) rotate(-32)"><path d="M0 7L0 -10L7 -10M0 -7L4 -7"/><path d="M-2.8 5.9L0 11L2.8 5.9z" fill="#000" stroke="none"/></g>
<g transform="translate(59.72,446.3) rotate(2)"><path d="M0 7L0 -10L7 -10"/><path d="M-2.8 5.9L0 11L2.8 5.9z" fill="#000" stroke="none"/></g>
<g transform="translate(81.54,446.3) rotate(-31)"><path d="M0 7L0 -10M0 -8L4 -8"/><path d="M-2.8 5.9L0 11L2.8 5.9z" fill="#000" stroke="none"/></g>
<g transform="translate(103.36,446.3) rotate(-6)"><path d="M0 7L0 -10L7 -10"/><path d="M-2.8 5.9L0 11L2.8 5.9z" fill="#000" stroke="none"/></g>
<g transform="translate(125.18,446.3) rotate(-19)"><path d="M0 7L0 -10"/><path d="M-2.8 5.9L0 11L2.8 5.9z" fill="#000" stroke="none"/></g>
<g transform="translate(147,446.3) rotate(-15)"><path d="M0 7L0 -10M0 -8L4 -8"/><path d="M-2.8 5.9L0 11L2.8 5.9z" fill="#000" stroke="none"/></g>
<g transform="translate(168.82,446.3) rotate(1)"><path d="M0 7L0 -10L7 -10M0 -7L4 -7"/><path d="M-2.8 5.9L0 11L2.8 5.9z" fill="#000" stroke="none"/></g>
<g transform="translate(190.64,446.3) rotate(-36)"><path d="M0 7L0 -10M0 -8L4 -8"/><path d="M-2.8 5.9L0 11L2.8 5.9z" fill="#000" stroke="none"/></g>
<g transform="translate(212.46,446.3) rotate(-61)"><path d="M0 7L0 -10M0 -8L4 -8"/><path d="M-2.8 5.9L0 11L2.8 5.9z" fill="#000" stroke="none"/></g>
<g transform="translate(234.28,446.3) rotate(-54)"><path d="M0 7L0 -10M0 -8L4 -8"/><path d="M-2.8 5.9L0 11L2.8 5.9z" fill="#000" stroke="none"/></g>
<g transform="translate(256.1,446.3) rotate(-109)"><path d="M0 7L0 -10M0 -8L4 -8"/><path d="M-2.8 5.9L0 11L2.8 5.9z" fill="#000" stroke="none"/></g>
<g transform="translate(277.92,446.3) rotate(-128)"><path d="M0 7L0 -10L7 -10"/><path d="M-2.8 5.9L0 11L2.8 5.9z" fill="#000" stroke="none"/></g>
<g transform="translate(299.74,446.3) rotate(-105)"><path d="M0 7L0 -10M0 -8L4 -8"/><path d="M-2.8 5.9L0 11L2.8 5.9z" fill="#000" stroke="none"/></g>
<g transform="translate(321.56,446.3) rotate(17)"><path d="M0 7L0 -10L7 -10"/><path d="M-2.8 5.9L0 11L2.8 5.9z" fill="#000" stroke="none"/></g>
<g transform="translate(343.38,446.3) rotate(-34)"><path d="M0 7L0 -10"/><path d="M-2.8 5.9L0 11L2.8 5.9z" fill="#000" stroke="none"/></g>
<g transform="translate(365.2,446.3) rotate(8)"><path d="M0 7L0 -10M0 -8L4 -8"/><path d="M-2.8 5.9L0 11L2.8 5.9z" fill="#000" stroke="none"/></g>
<g transform="translate(387.02,446.3) rotate(2)"><path d="M0 7L0 -10L7 -10M0 -7L4 -7"/><path d="M-2.8 5.9L0 11L2.8 5.9z" fill="#000" stroke="none"/></g>
<g transform="translate(408.84,446.3) rotate(1)"><path d="M0 7L0 -10L7 -10"/><path d="M-2.8 5.9L0 11L2.8 5.9z" fill="#000" stroke="none"/></g>
<g transform="translate(430.66,446.3) rotate(6)"><path d="M0 7L0 -10M0 -8L4 -8"/><path d="M-2.8 5.9L0 11L2.8 5.9z" fill="#000" stroke="none"/></g>
<g transform="translate(452.48,446.3) rotate(13)"><path d="M0 7L0 -10L7 -10"/><path d="M-2.8 5.9L0 11L2.8 5.9z" fill="#000" stroke="none"/></g>
<g transform="translate(474.3,446.3) rotate(-3)"><path d="M0 7L0 -10L7 -10"/><path d="M-2.8 5.9L0 11L2.8 5.9z" fill="#000" stroke="none"/></g>
<g transform="translate(502,446.3) rotate(91)"><path d="M0 7L0 -10M0 -8L4 -8"/><path d="M-2.8 5.9L0 11L2.8 5.9z" fill="#000" stroke="none"/></g>
<g transform="translate(523.85,446.3) rotate(79)"><path d="M0 7L0 -10"/><path d="M-2.8 5.9L0 11L2.8 5.9z" fill="#000" stroke="none"/></g>
<g transform="translate(545.7,446.3) rotate(170)"><path d="M0 7L0 -10M0 -8L4 -8"/><path d="M-2.8 5.9L0 11L2.8 5.9z" fill="#000" stroke="none"/></g>
<g transform="translate(567.55,446.3) rotate(156)"><path d="M0 7L0 -10L7 -10"/><path d="M-2.8 5.9L0 11L2.8 5.9z" fill="#000" stroke="none"/></g>
<g transform="translate(589.4,446.3) rotate(-3)"><path d="M0 7L0 -10"/><path d="M-2.8 5.9L0 11L2.8 5.9z" fill="#000" stroke="none"/></g>
<g transform="translate(611.25,446.3) rotate(163)"><path d="M0 7L0 -10"/><path d="M-2.8 5.9L0 11L2.8 5.9z" fill="#000" stroke="none"/></g>
<g transform="translate(633.1,446.3) rotate(-73)"><path d="M0 7L0 -10M0 -8L4 -8"/><path d="M-2.8 5.9L0 11L2.8 5.9z" fill="#000" stroke="none"/></g>
<g transform="translate(654.95,446.3) rotate(-36)"><path d="M0 7L0 -10L7 -10"/><path d="M-2.8 5.9L0 11L2.8 5.9z" fill="#000" stroke="none"/></g>
<g transform="translate(676.8,446.3) rotate(28)"><path d="M0 7L0 -10M0 -8L4 -8"/><path d="M-2.8 5.9L0 11L2.8 5.9z" fill="#000" stroke="none"/></g>
<g transform="translate(698.65,446.3) rotate(0)"><path d="M0 7L0 -10L7 -10"/><path d="M-2.8 5.9L0 11L2.8 5.9z" fill="#000" stroke="none"/></g>
<g transform="translate(720.5,446.3) rotate(-1)"><path d="M0 7L0 -10L7 -10M0 -7L4 -7"/><path d="M-2.8 5.9L0 11L2.8 5.9z" fill="#000" stroke="none"/></g>
<g transform="translate(742.35,446.3) rotate(-21)"><path d="M0 7L0 -10L7 -10"/><path d="M-2.8 5.9L0 11L2.8 5.9z" fill="#000" stroke="none"/></g>
<g transform="translate(764.2,446.3) rotate(-8)"><path d="M0 7L0 -10L7 -10"/><path d="M-2.8 5.9L0 11L2.8 5.9z" fill="#000" stroke="none"/></g>
<g transform="translate(786.05,446.3) rotate(58)"><path d="M0 7L0 -10M0 -8L4 -8"/><path d="M-2.8 5.9L0 11L2.8 5.9z" fill="#000" stroke="none"/></g>
<g transform="translate(807.9,446.3) rotate(91)"><path d="M0 7L0 -10M0 -8L4 -8"/><path d="M-2.8 5.9L0 11L2.8 5.9z" fill="#000" stroke="none"/></g>
<g transform="translate(829.75,446.3) rotate(105)"><path d="M0 7L0 -10M0 -8L4 -8"/><path d="M-2.8 5.9L0 11L2.8 5.9z" fill="#000" stroke="none"/></g>
<g transform="translate(851.6,446.3) rotate(189)"><path d="M0 7L0 -10L7 -10"/><path d="M-2.8 5.9L0 11L2.8 5.9z" fill="#000" stroke="none"/></g>
<g transform="translate(873.45,446.3) rotate(180)"><path d="M0 7L0 -10"/><path d="M-2.8 5.9L0 11L2.8 5.9z" fill="#000" stroke="none"/></g>
<g transform="translate(895.3,446.3) rotate(-11)"><path d="M0 7L0 -10L7 -10M0 -7L7 -7M0 -4L4 -4"/><path d="M-2.8 5.9L0 11L2.8 5.9z" fill="#000" stroke="none"/></g>
</g>
<text x="23.6" y="434.3" text-anchor="end" font-size="10.5" fill="#666" letter-spacing="0.5">0<tspan font-size="8.5" dy="-1.6">°</tspan></text>
<text x="23.6" y="394.15" text-anchor="end" font-size="10.5" fill="#666" letter-spacing="0.5">5<tspan font-size="8.5" dy="-1.6">°</tspan></text>
<text x="23.6" y="354.9" text-anchor="end" font-size="10.5" fill="#666" letter-spacing="0.5">10<tspan font-size="8.5" dy="-1.6">°</tspan></text>
<text x="23.6" y="315.65" text-anchor="end" font-size="10.5" fill="#666" letter-spacing="0.5">15<tspan font-size="8.5" dy="-1.6">°</tspan></text>
<text x="23.6" y="276.4" text-anchor="end" font-size="10.5" fill="#666" letter-spacing="0.5">20<tspan font-size="8.5" dy="-1.6">°</tspan></text>
<text x="23.6" y="237.15" text-anchor="end" font-size="10.5" fill="#666" letter-spacing="0.5">25<tspan font-size="8.5" dy="-1.6">°</tspan></text>
<text x="23.6" y="197.9" text-anchor="end" font-size="10.5" fill="#666" letter-spacing="0.5">30<tspan font-size="8.5" dy="-1.6">°</tspan></text>
<text x="23.6" y="158.65" text-anchor="end" font-size="10.5" fill="#666" letter-spacing="0.5">35<tspan font-size="8.5" dy="-1.6">°</tspan></text>
<text x="23.6" y="119.4" text-anchor="end" font-size="10.5" fill="#666" letter-spacing="0.5">40<tspan font-size="8.5" dy="-1.6">°</tspan></text>
<text x="913.5" y="435" font-size="11.5" fill="#666">0</text>
<text x="913.5" y="368.1" font-size="11.5" fill="#666">1.2</text>
<text x="913.5" y="300.7" font-size="11.5" fill="#666">2.4</text>
<text x="913.5" y="233.3" font-size="11.5" fill="#666">3.6</text>
<text x="913.5" y="165.9" font-size="11.5" fill="#666">4.8</text>
<text x="913.5" y="99.1" font-size="11.5" fill="#666">6</text>
<text x="24.85" y="479.8" font-size="10.2" fill="#6a6a6a" textLength="12.6" lengthAdjust="spacing">16</text>
<text x="43.73" y="479.8" font-size="10.2" fill="#6a6a6a" textLength="13.9" lengthAdjust="spacing">00</text>
<text x="63.12" y="479.8" font-size="10.2" fill="#6a6a6a" textLength="13.9" lengthAdjust="spacing">08</text>
<text x="83" y="479.8" font-size="10.2" fill="#6a6a6a" textLength="12.6" lengthAdjust="spacing">16</text>
<text x="101.88" y="479.8" font-size="10.2" fill="#6a6a6a" textLength="13.9" lengthAdjust="spacing">00</text>
<text x="121.27" y="479.8" font-size="10.2" fill="#6a6a6a" textLength="13.9" lengthAdjust="spacing">08</text>
<text x="141.15" y="479.8" font-size="10.2" fill="#6a6a6a" textLength="12.6" lengthAdjust="spacing">16</text>
<text x="160.03" y="479.8" font-size="10.2" fill="#6a6a6a" textLength="13.9" lengthAdjust="spacing">00</text>
<text x="179.42" y="479.8" font-size="10.2" fill="#6a6a6a" textLength="13.9" lengthAdjust="spacing">08</text>
<text x="199.3" y="479.8" font-size="10.2" fill="#6a6a6a" textLength="12.6" lengthAdjust="spacing">16</text>
<text x="218.18" y="479.8" font-size="10.2" fill="#6a6a6a" textLength="13.9" lengthAdjust="spacing">00</text>
<text x="237.57" y="479.8" font-size="10.2" fill="#6a6a6a" textLength="13.9" lengthAdjust="spacing">08</text>
<text x="257.45" y="479.8" font-size="10.2" fill="#6a6a6a" textLength="12.6" lengthAdjust="spacing">16</text>
<text x="276.33" y="479.8" font-size="10.2" fill="#6a6a6a" textLength="13.9" lengthAdjust="spacing">00</text>
<text x="295.72" y="479.8" font-size="10.2" fill="#6a6a6a" textLength="13.9" lengthAdjust="spacing">08</text>
<text x="315.6" y="479.8" font-size="10.2" fill="#6a6a6a" textLength="12.6" lengthAdjust="spacing">16</text>
<text x="334.48" y="479.8" font-size="10.2" fill="#6a6a6a" textLength="13.9" lengthAdjust="spacing">00</text>
<text x="353.87" y="479.8" font-size="10.2" fill="#6a6a6a" textLength="13.9" lengthAdjust="spacing">08</text>
<text x="373.75" y="479.8" font-size="10.2" fill="#6a6a6a" textLength="12.6" lengthAdjust="spacing">16</text>
<text x="392.63" y="479.8" font-size="10.2" fill="#6a6a6a" textLength="13.9" lengthAdjust="spacing">00</text>
<text x="412.02" y="479.8" font-size="10.2" fill="#6a6a6a" textLength="13.9" lengthAdjust="spacing">08</text>
<text x="431.9" y="479.8" font-size="10.2" fill="#6a6a6a" textLength="12.6" lengthAdjust="spacing">16</text>
<text x="450.78" y="479.8" font-size="10.2" fill="#6a6a6a" textLength="13.9" lengthAdjust="spacing">00</text>
<text x="470.17" y="479.8" font-size="10.2" fill="#6a6a6a" textLength="13.9" lengthAdjust="spacing">08</text>
<text x="490.05" y="479.8" font-size="10.2" fill="#6a6a6a" textLength="12.6" lengthAdjust="spacing">16</text>
<text x="508.93" y="479.8" font-size="10.2" fill="#6a6a6a" textLength="13.9" lengthAdjust="spacing">00</text>
<text x="528.32" y="479.8" font-size="10.2" fill="#6a6a6a" textLength="13.9" lengthAdjust="spacing">08</text>
<text x="548.2" y="479.8" font-size="10.2" fill="#6a6a6a" textLength="12.6" lengthAdjust="spacing">16</text>
<text x="567.08" y="479.8" font-size="10.2" fill="#6a6a6a" textLength="13.9" lengthAdjust="spacing">00</text>
<text x="586.47" y="479.8" font-size="10.2" fill="#6a6a6a" textLength="13.9" lengthAdjust="spacing">08</text>
<text x="606.35" y="479.8" font-size="10.2" fill="#6a6a6a" textLength="12.6" lengthAdjust="spacing">16</text>
<text x="625.23" y="479.8" font-size="10.2" fill="#6a6a6a" textLength="13.9" lengthAdjust="spacing">00</text>
<text x="644.62" y="479.8" font-size="10.2" fill="#6a6a6a" textLength="13.9" lengthAdjust="spacing">08</text>
<text x="664.5" y="479.8" font-size="10.2" fill="#6a6a6a" textLength="12.6" lengthAdjust="spacing">16</text>
<text x="683.38" y="479.8" font-size="10.2" fill="#6a6a6a" textLength="13.9" lengthAdjust="spacing">00</text>
<text x="702.77" y="479.8" font-size="10.2" fill="#6a6a6a" textLength="13.9" lengthAdjust="spacing">08</text>
<text x="722.65" y="479.8" font-size="10.2" fill="#6a6a6a" textLength="12.6" lengthAdjust="spacing">16</text>
<text x="741.53" y="479.8" font-size="10.2" fill="#6a6a6a" textLength="13.9" lengthAdjust="spacing">00</text>
<text x="760.92" y="479.8" font-size="10.2" fill="#6a6a6a" textLength="13.9" lengthAdjust="spacing">08</text>
<text x="780.8" y="479.8" font-size="10.2" fill="#6a6a6a" textLength="12.6" lengthAdjust="spacing">16</text>
<text x="799.68" y="479.8" font-size="10.2" fill="#6a6a6a" textLength="13.9" lengthAdjust="spacing">00</text>
<text x="819.07" y="479.8" font-size="10.2" fill="#6a6a6a" textLength="13.9" lengthAdjust="spacing">08</text>
<text x="838.95" y="479.8" font-size="10.2" fill="#6a6a6a" textLength="12.6" lengthAdjust="spacing">16</text>
<text x="857.83" y="479.8" font-size="10.2" fill="#6a6a6a" textLength="13.9" lengthAdjust="spacing">00</text>
<text x="877.22" y="479.8" font-size="10.2" fill="#6a6a6a" textLength="13.9" lengthAdjust="spacing">08</text>
<text transform="translate(55.3,80.8) rotate(-45)" font-size="11.3" fill="#666"><tspan font-weight="bold" font-size="12.6" fill="#555">Mon</tspan> Jul 11</text>
<text transform="translate(113.45,80.8) rotate(-45)" font-size="11.3" fill="#666"><tspan font-weight="bold" font-size="12.6" fill="#555">Tue</tspan> Jul 12</text>
<text transform="translate(171.6,80.8) rotate(-45)" font-size="11.3" fill="#666"><tspan font-weight="bold" font-size="12.6" fill="#555">Wed</tspan> Jul 13</text>
<text transform="translate(229.75,80.8) rotate(-45)" font-size="11.3" fill="#666"><tspan font-weight="bold" font-size="12.6" fill="#555">Thu</tspan> Jul 14</text>
<text transform="translate(287.9,80.8) rotate(-45)" font-size="11.3" fill="#666"><tspan font-weight="bold" font-size="12.6" fill="#555">Fri</tspan> Jul 15</text>
<text transform="translate(346.05,80.8) rotate(-45)" font-size="11.3" fill="#666"><tspan font-weight="bold" font-size="12.6" fill="#555">Sat</tspan> Jul 16</text>
<text transform="translate(404.2,80.8) rotate(-45)" font-size="11.3" fill="#666"><tspan font-weight="bold" font-size="12.6" fill="#555">Sun</tspan> Jul 17</text>
<text transform="translate(462.35,80.8) rotate(-45)" font-size="11.3" fill="#666"><tspan font-weight="bold" font-size="12.6" fill="#555">Mon</tspan> Jul 18</text>
<text transform="translate(520.5,80.8) rotate(-45)" font-size="11.3" fill="#666"><tspan font-weight="bold" font-size="12.6" fill="#555">Tue</tspan> Jul 19</text>
<text transform="translate(578.65,80.8) rotate(-45)" font-size="11.3" fill="#666"><tspan font-weight="bold" font-size="12.6" fill="#555">Wed</tspan> Jul 20</text>
<text transform="translate(636.8,80.8) rotate(-45)" font-size="11.3" fill="#666"><tspan font-weight="bold" font-size="12.6" fill="#555">Thu</tspan> Jul 21</text>
<text transform="translate(694.95,80.8) rotate(-45)" font-size="11.3" fill="#666"><tspan font-weight="bold" font-size="12.6" fill="#555">Fri</tspan> Jul 22</text>
<text transform="translate(753.1,80.8) rotate(-45)" font-size="11.3" fill="#666"><tspan font-weight="bold" font-size="12.6" fill="#555">Sat</tspan> Jul 23</text>
<text transform="translate(811.25,80.8) rotate(-45)" font-size="11.3" fill="#666"><tspan font-weight="bold" font-size="12.6" fill="#555">Sun</tspan> Jul 24</text>
<text transform="translate(869.4,80.8) rotate(-45)" font-size="11.3" fill="#666"><tspan font-weight="bold" font-size="12.6" fill="#555">Mon</tspan> Jul 25</text>
<text x="317.8" y="23.8" font-size="14.6" fill="#333" textLength="26.7" lengthAdjust="spacingAndGlyphs">GFS</text>
<text x="350" y="23.8" font-size="14.6" fill="#333" textLength="110.3" lengthAdjust="spacing">Cserszegtomaj</text>
<text x="465.7" y="23.8" font-size="14.6" fill="#333" textLength="29.7" lengthAdjust="spacing">(HU)</text>
<text x="502.7" y="23.8" font-size="14.6" fill="#333" textLength="56.6" lengthAdjust="spacing">46.75N,</text>
<text x="569" y="23.8" font-size="14.6" fill="#333" textLength="48.5" lengthAdjust="spacing">17.25E</text>
<text x="337.6" y="37.1" font-size="12.3" fill="#666" textLength="139.5" lengthAdjust="spacing">Init: Sun, 10Jul2022 12Z</text>
<text x="505.8" y="37.1" font-size="12.3" fill="#666" textLength="30" lengthAdjust="spacing">05:11</text>
<text x="565.9" y="37.1" font-size="12.3" fill="#666" textLength="30.5" lengthAdjust="spacing">20:41</text>
<g transform="translate(492.3,0)" stroke="#111" fill="none" stroke-width="1.3" stroke-linecap="butt"><path d="M-9.2 42.3H9.2" stroke-width="1.4"/><path d="M-4.3 41.9a4.3 4.3 0 0 1 8.6 0" stroke-width="1.3"/><path d="M-8.5 39.3L-5.8 40.3M8.5 39.3L5.8 40.3M-5.6 34.8L-3.9 37.2M5.6 34.8L3.9 37.2M0 33.1V36.5" stroke-width="1.6"/><path d="M0 31.6V27.8" stroke-width="2"/><path d="M-2.7 28.8L0 25.3L2.7 28.8z" fill="#111" stroke="none"/></g>
<g transform="translate(552,0)" stroke="#111" fill="none" stroke-width="1.3" stroke-linecap="butt"><path d="M-9.2 42.3H9.2" stroke-width="1.4"/><path d="M-4.3 41.9a4.3 4.3 0 0 1 8.6 0" stroke-width="1.3"/><path d="M-8.5 39.3L-5.8 40.3M8.5 39.3L5.8 40.3M-5.6 34.8L-3.9 37.2M5.6 34.8L3.9 37.2M0 33.1V36.5" stroke-width="1.6"/><path d="M0 25.3V29.0" stroke-width="2"/><path d="M-2.7 28.2L0 31.7L2.7 28.2z" fill="#111" stroke="none"/></g>
<path d="M909.8 17.5H923.8M909.8 22.5H923.8M909.8 27.5H923.8" stroke="#666" stroke-width="3" stroke-linecap="round" fill="none"/>
<text x="406.2" y="500.2" font-size="12" fill="#666" textLength="112" lengthAdjust="spacing">Local time (UTC+2)</text>
<text x="822" y="495.7" font-size="9.6" fill="#909090" textLength="76" lengthAdjust="spacing">wetterzentrale.de</text>
</svg></body></html>
